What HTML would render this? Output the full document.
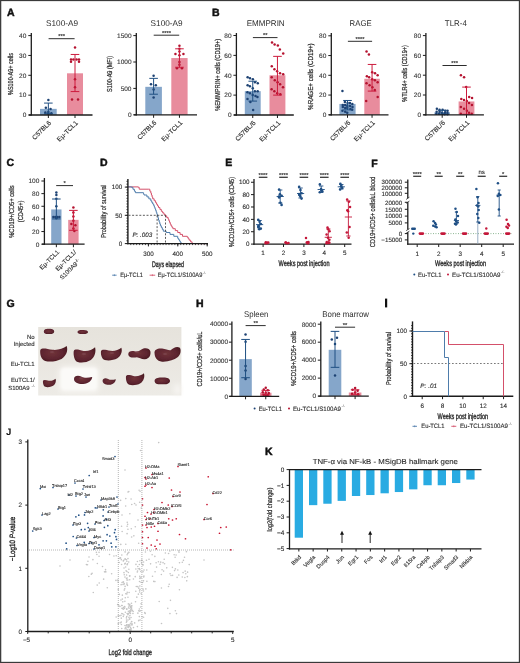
<!DOCTYPE html>
<html><head><meta charset="utf-8"><style>
html,body{margin:0;padding:0;background:#fff;}
svg{display:block;will-change:transform;}
text{font-family:"Liberation Sans", sans-serif;text-rendering:geometricPrecision;}
.s{stroke:#2a2a2a;stroke-width:0.22px;}
.p{stroke:#111;stroke-width:0.45px;}
.t{stroke:#333;stroke-width:0.12px;}
.b{stroke:#222;stroke-width:0.32px;}
</style></head><body>
<svg width="520" height="663" viewBox="0 0 520 663">
<rect width="520" height="663" fill="#fff"/>
<text x="7" y="15.9" font-size="10.5" text-anchor="start" font-weight="bold" fill="#111" class="p">A</text>
<rect x="40" y="108.85" width="16.7" height="6.15" fill="#85a6ca"/>
<rect x="67" y="73.31" width="16" height="41.69" fill="#e88c9d"/>
<circle cx="48.35" cy="100.11" r="1.25" fill="#1d4273"/>
<circle cx="45.85" cy="107.85" r="1.25" fill="#1d4273"/>
<circle cx="50.55" cy="109.05" r="1.25" fill="#1d4273"/>
<circle cx="48.35" cy="112.02" r="1.25" fill="#1d4273"/>
<circle cx="48.35" cy="113.81" r="1.25" fill="#1d4273"/>
<circle cx="45.35" cy="112.62" r="1.25" fill="#1d4273"/>
<circle cx="51.35" cy="113.21" r="1.25" fill="#1d4273"/>
<line x1="48.35" y1="103.09" x2="48.35" y2="113.81" stroke="#1f4f82" stroke-width="1" stroke-linecap="butt"/>
<line x1="44.05" y1="103.09" x2="52.65" y2="103.09" stroke="#1f4f82" stroke-width="1" stroke-linecap="butt"/>
<line x1="44.05" y1="113.81" x2="52.65" y2="113.81" stroke="#1f4f82" stroke-width="1" stroke-linecap="butt"/>
<circle cx="75" cy="47.51" r="1.25" fill="#b5122f"/>
<circle cx="71" cy="59.42" r="1.25" fill="#b5122f"/>
<circle cx="73.4" cy="59.42" r="1.25" fill="#b5122f"/>
<circle cx="76.6" cy="59.42" r="1.25" fill="#b5122f"/>
<circle cx="79" cy="59.42" r="1.25" fill="#b5122f"/>
<circle cx="71" cy="61.8" r="1.25" fill="#b5122f"/>
<circle cx="79" cy="61.8" r="1.25" fill="#b5122f"/>
<circle cx="75" cy="79.27" r="1.25" fill="#b5122f"/>
<circle cx="75" cy="87.21" r="1.25" fill="#b5122f"/>
<circle cx="72" cy="99.52" r="1.25" fill="#b5122f"/>
<circle cx="78" cy="99.52" r="1.25" fill="#b5122f"/>
<line x1="75" y1="54.46" x2="75" y2="91.58" stroke="#cc1b3d" stroke-width="1" stroke-linecap="butt"/>
<line x1="70.7" y1="54.46" x2="79.3" y2="54.46" stroke="#cc1b3d" stroke-width="1" stroke-linecap="butt"/>
<line x1="70.7" y1="91.58" x2="79.3" y2="91.58" stroke="#cc1b3d" stroke-width="1" stroke-linecap="butt"/>
<line x1="31.3" y1="33" x2="31.3" y2="115.6" stroke="#1c1c1c" stroke-width="1.3" stroke-linecap="butt"/>
<line x1="28.8" y1="115" x2="92.5" y2="115" stroke="#1c1c1c" stroke-width="1.3" stroke-linecap="butt"/>
<line x1="28.3" y1="115" x2="31.3" y2="115" stroke="#1c1c1c" stroke-width="1" stroke-linecap="butt"/>
<text x="26.3" y="117.3" font-size="6.5" text-anchor="end" font-weight="normal" fill="#3a3a3a" class="t">0</text>
<line x1="28.3" y1="95.15" x2="31.3" y2="95.15" stroke="#1c1c1c" stroke-width="1" stroke-linecap="butt"/>
<text x="26.3" y="97.45" font-size="6.5" text-anchor="end" font-weight="normal" fill="#3a3a3a" class="t">10</text>
<line x1="28.3" y1="75.3" x2="31.3" y2="75.3" stroke="#1c1c1c" stroke-width="1" stroke-linecap="butt"/>
<text x="26.3" y="77.6" font-size="6.5" text-anchor="end" font-weight="normal" fill="#3a3a3a" class="t">20</text>
<line x1="28.3" y1="55.45" x2="31.3" y2="55.45" stroke="#1c1c1c" stroke-width="1" stroke-linecap="butt"/>
<text x="26.3" y="57.75" font-size="6.5" text-anchor="end" font-weight="normal" fill="#3a3a3a" class="t">30</text>
<line x1="28.3" y1="35.6" x2="31.3" y2="35.6" stroke="#1c1c1c" stroke-width="1" stroke-linecap="butt"/>
<text x="26.3" y="37.9" font-size="6.5" text-anchor="end" font-weight="normal" fill="#3a3a3a" class="t">40</text>
<line x1="48.35" y1="115" x2="48.35" y2="118" stroke="#1c1c1c" stroke-width="1" stroke-linecap="butt"/>
<line x1="75" y1="115" x2="75" y2="118" stroke="#1c1c1c" stroke-width="1" stroke-linecap="butt"/>
<line x1="48.6" y1="38.7" x2="74.6" y2="38.7" stroke="#222" stroke-width="0.95" stroke-linecap="butt"/>
<text x="61.6" y="38.3" font-size="5.8" text-anchor="middle" font-weight="normal" fill="#2b2b2b" class="t">***</text>
<text x="62" y="26" font-size="8.3" text-anchor="middle" font-weight="normal" fill="#2b2b2b" textLength="32" lengthAdjust="spacingAndGlyphs">S100-A9</text>
<text x="0" y="0" font-size="7.2" text-anchor="middle" font-weight="normal" fill="#2b2b2b" transform="translate(12.5 74) rotate(-90)" textLength="42" lengthAdjust="spacingAndGlyphs" class="s">%S100-A9+ cells</text>
<text x="0" y="0" font-size="6.6" text-anchor="end" font-weight="normal" fill="#2b2b2b" transform="translate(51.65 123.3) rotate(-45)" class="t">C57BL6</text>
<text x="0" y="0" font-size="6.6" text-anchor="end" font-weight="normal" fill="#2b2b2b" transform="translate(78.3 123.3) rotate(-45)" class="t">Eμ-TCL1</text>
<rect x="145.3" y="86.82" width="16.6" height="27.98" fill="#85a6ca"/>
<rect x="171.3" y="58.04" width="16.3" height="56.76" fill="#e88c9d"/>
<circle cx="153.6" cy="75.73" r="1.25" fill="#1d4273"/>
<circle cx="151" cy="84.18" r="1.25" fill="#1d4273"/>
<circle cx="155.8" cy="85.23" r="1.25" fill="#1d4273"/>
<circle cx="153.6" cy="89.46" r="1.25" fill="#1d4273"/>
<circle cx="153.6" cy="97.38" r="1.25" fill="#1d4273"/>
<line x1="153.6" y1="78.37" x2="153.6" y2="94.21" stroke="#1f4f82" stroke-width="1" stroke-linecap="butt"/>
<line x1="149.3" y1="78.37" x2="157.9" y2="78.37" stroke="#1f4f82" stroke-width="1" stroke-linecap="butt"/>
<line x1="149.3" y1="94.21" x2="157.9" y2="94.21" stroke="#1f4f82" stroke-width="1" stroke-linecap="butt"/>
<circle cx="179.45" cy="45.63" r="1.25" fill="#b5122f"/>
<circle cx="179.45" cy="48.8" r="1.25" fill="#b5122f"/>
<circle cx="179.45" cy="51.44" r="1.25" fill="#b5122f"/>
<circle cx="175.45" cy="54.08" r="1.25" fill="#b5122f"/>
<circle cx="183.45" cy="54.08" r="1.25" fill="#b5122f"/>
<circle cx="179.45" cy="55.14" r="1.25" fill="#b5122f"/>
<circle cx="179.45" cy="62" r="1.25" fill="#b5122f"/>
<circle cx="179.45" cy="64.64" r="1.25" fill="#b5122f"/>
<circle cx="176.95" cy="68.34" r="1.25" fill="#b5122f"/>
<circle cx="181.95" cy="68.34" r="1.25" fill="#b5122f"/>
<line x1="179.45" y1="48.8" x2="179.45" y2="67.28" stroke="#cc1b3d" stroke-width="1" stroke-linecap="butt"/>
<line x1="175.15" y1="48.8" x2="183.75" y2="48.8" stroke="#cc1b3d" stroke-width="1" stroke-linecap="butt"/>
<line x1="175.15" y1="67.28" x2="183.75" y2="67.28" stroke="#cc1b3d" stroke-width="1" stroke-linecap="butt"/>
<line x1="136.3" y1="33" x2="136.3" y2="115.4" stroke="#1c1c1c" stroke-width="1.3" stroke-linecap="butt"/>
<line x1="133.8" y1="114.8" x2="197" y2="114.8" stroke="#1c1c1c" stroke-width="1.3" stroke-linecap="butt"/>
<line x1="133.3" y1="114.8" x2="136.3" y2="114.8" stroke="#1c1c1c" stroke-width="1" stroke-linecap="butt"/>
<text x="131.5" y="117.1" font-size="6.5" text-anchor="end" font-weight="normal" fill="#3a3a3a" class="t">0</text>
<line x1="133.3" y1="88.4" x2="136.3" y2="88.4" stroke="#1c1c1c" stroke-width="1" stroke-linecap="butt"/>
<text x="131.5" y="90.7" font-size="6.5" text-anchor="end" font-weight="normal" fill="#3a3a3a" class="t">500</text>
<line x1="133.3" y1="62" x2="136.3" y2="62" stroke="#1c1c1c" stroke-width="1" stroke-linecap="butt"/>
<text x="131.5" y="64.3" font-size="6.5" text-anchor="end" font-weight="normal" fill="#3a3a3a" class="t">1000</text>
<line x1="133.3" y1="35.6" x2="136.3" y2="35.6" stroke="#1c1c1c" stroke-width="1" stroke-linecap="butt"/>
<text x="131.5" y="37.9" font-size="6.5" text-anchor="end" font-weight="normal" fill="#3a3a3a" class="t">1500</text>
<line x1="153.6" y1="114.8" x2="153.6" y2="117.8" stroke="#1c1c1c" stroke-width="1" stroke-linecap="butt"/>
<line x1="179.45" y1="114.8" x2="179.45" y2="117.8" stroke="#1c1c1c" stroke-width="1" stroke-linecap="butt"/>
<line x1="153.7" y1="35.2" x2="179.2" y2="35.2" stroke="#222" stroke-width="0.95" stroke-linecap="butt"/>
<text x="166.45" y="34.8" font-size="5.8" text-anchor="middle" font-weight="normal" fill="#2b2b2b" class="t">****</text>
<text x="166.6" y="26" font-size="8.3" text-anchor="middle" font-weight="normal" fill="#2b2b2b" textLength="32" lengthAdjust="spacingAndGlyphs">S100-A9</text>
<text x="0" y="0" font-size="7.2" text-anchor="middle" font-weight="normal" fill="#2b2b2b" transform="translate(111.9 74) rotate(-90)" textLength="36" lengthAdjust="spacingAndGlyphs" class="s">S100-A9 (MFI)</text>
<text x="0" y="0" font-size="6.6" text-anchor="end" font-weight="normal" fill="#2b2b2b" transform="translate(156.9 123.1) rotate(-45)" class="t">C57BL6</text>
<text x="0" y="0" font-size="6.6" text-anchor="end" font-weight="normal" fill="#2b2b2b" transform="translate(182.75 123.1) rotate(-45)" class="t">Eμ-TCL1</text>
<text x="212" y="15.9" font-size="10.5" text-anchor="start" font-weight="bold" fill="#111" class="p">B</text>
<rect x="244.8" y="91.15" width="15.9" height="23.85" fill="#85a6ca"/>
<rect x="269.5" y="75.25" width="15.9" height="39.75" fill="#e88c9d"/>
<circle cx="247.61" cy="77.24" r="1.25" fill="#1d4273"/>
<circle cx="249.97" cy="78.23" r="1.25" fill="#1d4273"/>
<circle cx="252.87" cy="79.22" r="1.25" fill="#1d4273"/>
<circle cx="254.91" cy="82.21" r="1.25" fill="#1d4273"/>
<circle cx="257.78" cy="83.2" r="1.25" fill="#1d4273"/>
<circle cx="247.64" cy="85.19" r="1.25" fill="#1d4273"/>
<circle cx="249.9" cy="86.18" r="1.25" fill="#1d4273"/>
<circle cx="252.76" cy="88.17" r="1.25" fill="#1d4273"/>
<circle cx="254.88" cy="91.15" r="1.25" fill="#1d4273"/>
<circle cx="257.7" cy="91.15" r="1.25" fill="#1d4273"/>
<circle cx="247.41" cy="92.14" r="1.25" fill="#1d4273"/>
<circle cx="249.92" cy="93.14" r="1.25" fill="#1d4273"/>
<circle cx="252.69" cy="95.12" r="1.25" fill="#1d4273"/>
<circle cx="255.51" cy="96.12" r="1.25" fill="#1d4273"/>
<circle cx="257.45" cy="97.11" r="1.25" fill="#1d4273"/>
<circle cx="247.53" cy="99.1" r="1.25" fill="#1d4273"/>
<circle cx="250.35" cy="102.08" r="1.25" fill="#1d4273"/>
<circle cx="253.11" cy="110.03" r="1.25" fill="#1d4273"/>
<line x1="252.75" y1="81.21" x2="252.75" y2="101.09" stroke="#1f4f82" stroke-width="1" stroke-linecap="butt"/>
<line x1="248.45" y1="81.21" x2="257.05" y2="81.21" stroke="#1f4f82" stroke-width="1" stroke-linecap="butt"/>
<line x1="248.45" y1="101.09" x2="257.05" y2="101.09" stroke="#1f4f82" stroke-width="1" stroke-linecap="butt"/>
<circle cx="272.01" cy="42.46" r="1.25" fill="#b5122f"/>
<circle cx="274.62" cy="44.44" r="1.25" fill="#b5122f"/>
<circle cx="277.83" cy="45.44" r="1.25" fill="#b5122f"/>
<circle cx="279.84" cy="49.41" r="1.25" fill="#b5122f"/>
<circle cx="283.24" cy="53.39" r="1.25" fill="#b5122f"/>
<circle cx="271.78" cy="66.31" r="1.25" fill="#b5122f"/>
<circle cx="274.42" cy="69.29" r="1.25" fill="#b5122f"/>
<circle cx="277.14" cy="71.28" r="1.25" fill="#b5122f"/>
<circle cx="280.05" cy="73.26" r="1.25" fill="#b5122f"/>
<circle cx="283.2" cy="74.26" r="1.25" fill="#b5122f"/>
<circle cx="271.69" cy="77.24" r="1.25" fill="#b5122f"/>
<circle cx="274.77" cy="80.22" r="1.25" fill="#b5122f"/>
<circle cx="277.56" cy="82.21" r="1.25" fill="#b5122f"/>
<circle cx="280.1" cy="84.19" r="1.25" fill="#b5122f"/>
<circle cx="282.99" cy="87.17" r="1.25" fill="#b5122f"/>
<circle cx="271.6" cy="89.16" r="1.25" fill="#b5122f"/>
<circle cx="274.35" cy="91.15" r="1.25" fill="#b5122f"/>
<circle cx="277.21" cy="93.14" r="1.25" fill="#b5122f"/>
<circle cx="280.34" cy="94.13" r="1.25" fill="#b5122f"/>
<line x1="277.45" y1="56.37" x2="277.45" y2="95.12" stroke="#cc1b3d" stroke-width="1" stroke-linecap="butt"/>
<line x1="273.15" y1="56.37" x2="281.75" y2="56.37" stroke="#cc1b3d" stroke-width="1" stroke-linecap="butt"/>
<line x1="273.15" y1="95.12" x2="281.75" y2="95.12" stroke="#cc1b3d" stroke-width="1" stroke-linecap="butt"/>
<line x1="236.4" y1="33" x2="236.4" y2="115.6" stroke="#1c1c1c" stroke-width="1.3" stroke-linecap="butt"/>
<line x1="233.9" y1="115" x2="293.8" y2="115" stroke="#1c1c1c" stroke-width="1.3" stroke-linecap="butt"/>
<line x1="233.4" y1="115" x2="236.4" y2="115" stroke="#1c1c1c" stroke-width="1" stroke-linecap="butt"/>
<text x="231.5" y="117.3" font-size="6.5" text-anchor="end" font-weight="normal" fill="#3a3a3a" class="t">0</text>
<line x1="233.4" y1="95.12" x2="236.4" y2="95.12" stroke="#1c1c1c" stroke-width="1" stroke-linecap="butt"/>
<text x="231.5" y="97.42" font-size="6.5" text-anchor="end" font-weight="normal" fill="#3a3a3a" class="t">20</text>
<line x1="233.4" y1="75.25" x2="236.4" y2="75.25" stroke="#1c1c1c" stroke-width="1" stroke-linecap="butt"/>
<text x="231.5" y="77.55" font-size="6.5" text-anchor="end" font-weight="normal" fill="#3a3a3a" class="t">40</text>
<line x1="233.4" y1="55.38" x2="236.4" y2="55.38" stroke="#1c1c1c" stroke-width="1" stroke-linecap="butt"/>
<text x="231.5" y="57.67" font-size="6.5" text-anchor="end" font-weight="normal" fill="#3a3a3a" class="t">60</text>
<line x1="233.4" y1="35.5" x2="236.4" y2="35.5" stroke="#1c1c1c" stroke-width="1" stroke-linecap="butt"/>
<text x="231.5" y="37.8" font-size="6.5" text-anchor="end" font-weight="normal" fill="#3a3a3a" class="t">80</text>
<line x1="252.75" y1="115" x2="252.75" y2="118" stroke="#1c1c1c" stroke-width="1" stroke-linecap="butt"/>
<line x1="277.45" y1="115" x2="277.45" y2="118" stroke="#1c1c1c" stroke-width="1" stroke-linecap="butt"/>
<line x1="252.9" y1="37.6" x2="277.5" y2="37.6" stroke="#222" stroke-width="0.95" stroke-linecap="butt"/>
<text x="265.2" y="37.2" font-size="5.8" text-anchor="middle" font-weight="normal" fill="#2b2b2b" class="t">**</text>
<text x="265.7" y="26" font-size="8.3" text-anchor="middle" font-weight="normal" fill="#2b2b2b" textLength="38" lengthAdjust="spacingAndGlyphs">EMMPRIN</text>
<text x="0" y="0" font-size="7.2" text-anchor="middle" font-weight="normal" fill="#2b2b2b" transform="translate(219.9 74.8) rotate(-90)" textLength="72" lengthAdjust="spacingAndGlyphs" class="s">%EMMPRIN+ cells (CD19+)</text>
<text x="0" y="0" font-size="6.6" text-anchor="end" font-weight="normal" fill="#2b2b2b" transform="translate(256.05 123.3) rotate(-45)" class="t">C57BL/6</text>
<text x="0" y="0" font-size="6.6" text-anchor="end" font-weight="normal" fill="#2b2b2b" transform="translate(280.75 123.3) rotate(-45)" class="t">Eμ-TCL1</text>
<rect x="339.4" y="103.94" width="16.2" height="10.86" fill="#85a6ca"/>
<rect x="364.3" y="78.76" width="15.5" height="36.04" fill="#e88c9d"/>
<circle cx="342.44" cy="91.1" r="1.25" fill="#1d4273"/>
<circle cx="344.85" cy="101.96" r="1.25" fill="#1d4273"/>
<circle cx="347.57" cy="102.95" r="1.25" fill="#1d4273"/>
<circle cx="349.96" cy="102.95" r="1.25" fill="#1d4273"/>
<circle cx="352.34" cy="103.94" r="1.25" fill="#1d4273"/>
<circle cx="342.74" cy="104.92" r="1.25" fill="#1d4273"/>
<circle cx="345.16" cy="104.92" r="1.25" fill="#1d4273"/>
<circle cx="347.3" cy="105.91" r="1.25" fill="#1d4273"/>
<circle cx="350.06" cy="105.91" r="1.25" fill="#1d4273"/>
<circle cx="352.52" cy="106.9" r="1.25" fill="#1d4273"/>
<circle cx="342.8" cy="106.9" r="1.25" fill="#1d4273"/>
<circle cx="345.18" cy="107.89" r="1.25" fill="#1d4273"/>
<circle cx="347.33" cy="107.89" r="1.25" fill="#1d4273"/>
<circle cx="350.38" cy="108.88" r="1.25" fill="#1d4273"/>
<circle cx="352.19" cy="109.86" r="1.25" fill="#1d4273"/>
<circle cx="342.43" cy="110.85" r="1.25" fill="#1d4273"/>
<circle cx="345.21" cy="111.84" r="1.25" fill="#1d4273"/>
<circle cx="347.22" cy="112.83" r="1.25" fill="#1d4273"/>
<line x1="347.5" y1="100.48" x2="347.5" y2="109.86" stroke="#1f4f82" stroke-width="1" stroke-linecap="butt"/>
<line x1="343.2" y1="100.48" x2="351.8" y2="100.48" stroke="#1f4f82" stroke-width="1" stroke-linecap="butt"/>
<line x1="343.2" y1="109.86" x2="351.8" y2="109.86" stroke="#1f4f82" stroke-width="1" stroke-linecap="butt"/>
<circle cx="366.54" cy="51.6" r="1.25" fill="#b5122f"/>
<circle cx="368.93" cy="54.56" r="1.25" fill="#b5122f"/>
<circle cx="372.18" cy="72.34" r="1.25" fill="#b5122f"/>
<circle cx="375.01" cy="73.32" r="1.25" fill="#b5122f"/>
<circle cx="377.61" cy="75.3" r="1.25" fill="#b5122f"/>
<circle cx="366.85" cy="76.29" r="1.25" fill="#b5122f"/>
<circle cx="369.15" cy="77.28" r="1.25" fill="#b5122f"/>
<circle cx="372.21" cy="79.25" r="1.25" fill="#b5122f"/>
<circle cx="374.88" cy="80.24" r="1.25" fill="#b5122f"/>
<circle cx="377.61" cy="82.21" r="1.25" fill="#b5122f"/>
<circle cx="366.51" cy="83.2" r="1.25" fill="#b5122f"/>
<circle cx="369.57" cy="85.17" r="1.25" fill="#b5122f"/>
<circle cx="372.41" cy="87.15" r="1.25" fill="#b5122f"/>
<circle cx="374.78" cy="90.11" r="1.25" fill="#b5122f"/>
<circle cx="377.68" cy="97.02" r="1.25" fill="#b5122f"/>
<circle cx="366.2" cy="100.97" r="1.25" fill="#b5122f"/>
<line x1="372.05" y1="64.44" x2="372.05" y2="91.1" stroke="#cc1b3d" stroke-width="1" stroke-linecap="butt"/>
<line x1="367.75" y1="64.44" x2="376.35" y2="64.44" stroke="#cc1b3d" stroke-width="1" stroke-linecap="butt"/>
<line x1="367.75" y1="91.1" x2="376.35" y2="91.1" stroke="#cc1b3d" stroke-width="1" stroke-linecap="butt"/>
<line x1="331.3" y1="33" x2="331.3" y2="115.4" stroke="#1c1c1c" stroke-width="1.3" stroke-linecap="butt"/>
<line x1="328.8" y1="114.8" x2="388.5" y2="114.8" stroke="#1c1c1c" stroke-width="1.3" stroke-linecap="butt"/>
<line x1="328.3" y1="114.8" x2="331.3" y2="114.8" stroke="#1c1c1c" stroke-width="1" stroke-linecap="butt"/>
<text x="326.3" y="117.1" font-size="6.5" text-anchor="end" font-weight="normal" fill="#3a3a3a" class="t">0</text>
<line x1="328.3" y1="95.05" x2="331.3" y2="95.05" stroke="#1c1c1c" stroke-width="1" stroke-linecap="butt"/>
<text x="326.3" y="97.35" font-size="6.5" text-anchor="end" font-weight="normal" fill="#3a3a3a" class="t">20</text>
<line x1="328.3" y1="75.3" x2="331.3" y2="75.3" stroke="#1c1c1c" stroke-width="1" stroke-linecap="butt"/>
<text x="326.3" y="77.6" font-size="6.5" text-anchor="end" font-weight="normal" fill="#3a3a3a" class="t">40</text>
<line x1="328.3" y1="55.55" x2="331.3" y2="55.55" stroke="#1c1c1c" stroke-width="1" stroke-linecap="butt"/>
<text x="326.3" y="57.85" font-size="6.5" text-anchor="end" font-weight="normal" fill="#3a3a3a" class="t">60</text>
<line x1="328.3" y1="35.8" x2="331.3" y2="35.8" stroke="#1c1c1c" stroke-width="1" stroke-linecap="butt"/>
<text x="326.3" y="38.1" font-size="6.5" text-anchor="end" font-weight="normal" fill="#3a3a3a" class="t">80</text>
<line x1="347.5" y1="114.8" x2="347.5" y2="117.8" stroke="#1c1c1c" stroke-width="1" stroke-linecap="butt"/>
<line x1="372.05" y1="114.8" x2="372.05" y2="117.8" stroke="#1c1c1c" stroke-width="1" stroke-linecap="butt"/>
<line x1="347.9" y1="41.3" x2="372.1" y2="41.3" stroke="#222" stroke-width="0.95" stroke-linecap="butt"/>
<text x="360" y="40.9" font-size="5.8" text-anchor="middle" font-weight="normal" fill="#2b2b2b" class="t">****</text>
<text x="360.6" y="26" font-size="8.3" text-anchor="middle" font-weight="normal" fill="#2b2b2b" textLength="22" lengthAdjust="spacingAndGlyphs">RAGE</text>
<text x="0" y="0" font-size="7.2" text-anchor="middle" font-weight="normal" fill="#2b2b2b" transform="translate(313 76.6) rotate(-90)" textLength="66.6" lengthAdjust="spacingAndGlyphs" class="s">%RAGE+ cells (CD19+)</text>
<text x="0" y="0" font-size="6.6" text-anchor="end" font-weight="normal" fill="#2b2b2b" transform="translate(350.8 123.1) rotate(-45)" class="t">C57BL/6</text>
<text x="0" y="0" font-size="6.6" text-anchor="end" font-weight="normal" fill="#2b2b2b" transform="translate(375.35 123.1) rotate(-45)" class="t">Eμ-TCL1</text>
<rect x="434.4" y="112.33" width="15.6" height="2.47" fill="#85a6ca"/>
<rect x="458.6" y="101.44" width="15.8" height="13.36" fill="#e88c9d"/>
<circle cx="436.86" cy="108.86" r="1.25" fill="#1d4273"/>
<circle cx="439.57" cy="109.85" r="1.25" fill="#1d4273"/>
<circle cx="442.59" cy="109.85" r="1.25" fill="#1d4273"/>
<circle cx="445.21" cy="110.84" r="1.25" fill="#1d4273"/>
<circle cx="447.53" cy="110.84" r="1.25" fill="#1d4273"/>
<circle cx="436.61" cy="111.83" r="1.25" fill="#1d4273"/>
<circle cx="439.58" cy="111.83" r="1.25" fill="#1d4273"/>
<circle cx="441.82" cy="112.82" r="1.25" fill="#1d4273"/>
<circle cx="444.92" cy="112.82" r="1.25" fill="#1d4273"/>
<circle cx="447.43" cy="112.82" r="1.25" fill="#1d4273"/>
<circle cx="436.39" cy="113.81" r="1.25" fill="#1d4273"/>
<circle cx="439.1" cy="113.81" r="1.25" fill="#1d4273"/>
<circle cx="442.41" cy="113.81" r="1.25" fill="#1d4273"/>
<circle cx="444.65" cy="114.3" r="1.25" fill="#1d4273"/>
<circle cx="447.5" cy="114.3" r="1.25" fill="#1d4273"/>
<line x1="442.2" y1="110.34" x2="442.2" y2="114.3" stroke="#1f4f82" stroke-width="1" stroke-linecap="butt"/>
<line x1="437.9" y1="110.34" x2="446.5" y2="110.34" stroke="#1f4f82" stroke-width="1" stroke-linecap="butt"/>
<line x1="437.9" y1="114.3" x2="446.5" y2="114.3" stroke="#1f4f82" stroke-width="1" stroke-linecap="butt"/>
<circle cx="460.91" cy="75.2" r="1.25" fill="#b5122f"/>
<circle cx="464.05" cy="77.18" r="1.25" fill="#b5122f"/>
<circle cx="466.16" cy="87.08" r="1.25" fill="#b5122f"/>
<circle cx="469.21" cy="96.98" r="1.25" fill="#b5122f"/>
<circle cx="472.04" cy="97.97" r="1.25" fill="#b5122f"/>
<circle cx="461.31" cy="98.96" r="1.25" fill="#b5122f"/>
<circle cx="464.01" cy="99.95" r="1.25" fill="#b5122f"/>
<circle cx="466.79" cy="100.94" r="1.25" fill="#b5122f"/>
<circle cx="469.07" cy="102.92" r="1.25" fill="#b5122f"/>
<circle cx="471.93" cy="104.9" r="1.25" fill="#b5122f"/>
<circle cx="460.89" cy="106.88" r="1.25" fill="#b5122f"/>
<circle cx="464.06" cy="108.86" r="1.25" fill="#b5122f"/>
<circle cx="466.87" cy="110.84" r="1.25" fill="#b5122f"/>
<circle cx="468.97" cy="112.82" r="1.25" fill="#b5122f"/>
<circle cx="471.74" cy="113.81" r="1.25" fill="#b5122f"/>
<circle cx="460.79" cy="113.81" r="1.25" fill="#b5122f"/>
<line x1="466.5" y1="87.08" x2="466.5" y2="114.3" stroke="#cc1b3d" stroke-width="1" stroke-linecap="butt"/>
<line x1="462.2" y1="87.08" x2="470.8" y2="87.08" stroke="#cc1b3d" stroke-width="1" stroke-linecap="butt"/>
<line x1="462.2" y1="114.3" x2="470.8" y2="114.3" stroke="#cc1b3d" stroke-width="1" stroke-linecap="butt"/>
<line x1="425.9" y1="33" x2="425.9" y2="115.4" stroke="#1c1c1c" stroke-width="1.3" stroke-linecap="butt"/>
<line x1="423.4" y1="114.8" x2="483.9" y2="114.8" stroke="#1c1c1c" stroke-width="1.3" stroke-linecap="butt"/>
<line x1="422.9" y1="114.8" x2="425.9" y2="114.8" stroke="#1c1c1c" stroke-width="1" stroke-linecap="butt"/>
<text x="421" y="117.1" font-size="6.5" text-anchor="end" font-weight="normal" fill="#3a3a3a" class="t">0</text>
<line x1="422.9" y1="95" x2="425.9" y2="95" stroke="#1c1c1c" stroke-width="1" stroke-linecap="butt"/>
<text x="421" y="97.3" font-size="6.5" text-anchor="end" font-weight="normal" fill="#3a3a3a" class="t">20</text>
<line x1="422.9" y1="75.2" x2="425.9" y2="75.2" stroke="#1c1c1c" stroke-width="1" stroke-linecap="butt"/>
<text x="421" y="77.5" font-size="6.5" text-anchor="end" font-weight="normal" fill="#3a3a3a" class="t">40</text>
<line x1="422.9" y1="55.4" x2="425.9" y2="55.4" stroke="#1c1c1c" stroke-width="1" stroke-linecap="butt"/>
<text x="421" y="57.7" font-size="6.5" text-anchor="end" font-weight="normal" fill="#3a3a3a" class="t">60</text>
<line x1="422.9" y1="35.6" x2="425.9" y2="35.6" stroke="#1c1c1c" stroke-width="1" stroke-linecap="butt"/>
<text x="421" y="37.9" font-size="6.5" text-anchor="end" font-weight="normal" fill="#3a3a3a" class="t">80</text>
<line x1="442.2" y1="114.8" x2="442.2" y2="117.8" stroke="#1c1c1c" stroke-width="1" stroke-linecap="butt"/>
<line x1="466.5" y1="114.8" x2="466.5" y2="117.8" stroke="#1c1c1c" stroke-width="1" stroke-linecap="butt"/>
<line x1="442.5" y1="65.5" x2="466.7" y2="65.5" stroke="#222" stroke-width="0.95" stroke-linecap="butt"/>
<text x="454.6" y="65.1" font-size="5.8" text-anchor="middle" font-weight="normal" fill="#2b2b2b" class="t">***</text>
<text x="455.8" y="26" font-size="8.3" text-anchor="middle" font-weight="normal" fill="#2b2b2b" textLength="22" lengthAdjust="spacingAndGlyphs">TLR-4</text>
<text x="0" y="0" font-size="7.2" text-anchor="middle" font-weight="normal" fill="#2b2b2b" transform="translate(406.9 73.5) rotate(-90)" textLength="56.5" lengthAdjust="spacingAndGlyphs" class="s">%TLR4+ cells (CD19+)</text>
<text x="0" y="0" font-size="6.6" text-anchor="end" font-weight="normal" fill="#2b2b2b" transform="translate(445.5 123.1) rotate(-45)" class="t">C57BL/6</text>
<text x="0" y="0" font-size="6.6" text-anchor="end" font-weight="normal" fill="#2b2b2b" transform="translate(469.8 123.1) rotate(-45)" class="t">Eμ-TCL1</text>
<text x="6.5" y="166.3" font-size="10.5" text-anchor="start" font-weight="bold" fill="#111" class="p">C</text>
<rect x="51.2" y="209.44" width="10.3" height="34.76" fill="#85a6ca"/>
<rect x="68.2" y="219.87" width="10.4" height="24.33" fill="#e88c9d"/>
<circle cx="56.35" cy="192.38" r="1.25" fill="#1d4273"/>
<circle cx="56.35" cy="194.9" r="1.25" fill="#1d4273"/>
<circle cx="56.35" cy="198.7" r="1.25" fill="#1d4273"/>
<circle cx="56.35" cy="206.28" r="1.25" fill="#1d4273"/>
<circle cx="53.35" cy="217.02" r="1.25" fill="#1d4273"/>
<circle cx="55.35" cy="217.02" r="1.25" fill="#1d4273"/>
<circle cx="57.35" cy="217.02" r="1.25" fill="#1d4273"/>
<circle cx="59.35" cy="217.02" r="1.25" fill="#1d4273"/>
<circle cx="56.35" cy="218.29" r="1.25" fill="#1d4273"/>
<line x1="56.35" y1="199.01" x2="56.35" y2="218.92" stroke="#1f4f82" stroke-width="1" stroke-linecap="butt"/>
<line x1="52.05" y1="199.01" x2="60.65" y2="199.01" stroke="#1f4f82" stroke-width="1" stroke-linecap="butt"/>
<line x1="52.05" y1="218.92" x2="60.65" y2="218.92" stroke="#1f4f82" stroke-width="1" stroke-linecap="butt"/>
<circle cx="73.4" cy="207.54" r="1.25" fill="#b5122f"/>
<circle cx="73.4" cy="212.6" r="1.25" fill="#b5122f"/>
<circle cx="73.4" cy="216.39" r="1.25" fill="#b5122f"/>
<circle cx="73.4" cy="220.82" r="1.25" fill="#b5122f"/>
<circle cx="71.4" cy="223.98" r="1.25" fill="#b5122f"/>
<circle cx="75.4" cy="225.24" r="1.25" fill="#b5122f"/>
<circle cx="73.4" cy="228.4" r="1.25" fill="#b5122f"/>
<circle cx="74.4" cy="230.93" r="1.25" fill="#b5122f"/>
<line x1="73.4" y1="210.39" x2="73.4" y2="230.3" stroke="#cc1b3d" stroke-width="1" stroke-linecap="butt"/>
<line x1="69.1" y1="210.39" x2="77.7" y2="210.39" stroke="#cc1b3d" stroke-width="1" stroke-linecap="butt"/>
<line x1="69.1" y1="230.3" x2="77.7" y2="230.3" stroke="#cc1b3d" stroke-width="1" stroke-linecap="butt"/>
<line x1="44.4" y1="178" x2="44.4" y2="244.8" stroke="#1c1c1c" stroke-width="1.3" stroke-linecap="butt"/>
<line x1="41.9" y1="244.2" x2="84.6" y2="244.2" stroke="#1c1c1c" stroke-width="1.3" stroke-linecap="butt"/>
<line x1="41.4" y1="244.2" x2="44.4" y2="244.2" stroke="#1c1c1c" stroke-width="1" stroke-linecap="butt"/>
<text x="39.3" y="246.5" font-size="6.5" text-anchor="end" font-weight="normal" fill="#3a3a3a" class="t">0</text>
<line x1="41.4" y1="231.56" x2="44.4" y2="231.56" stroke="#1c1c1c" stroke-width="1" stroke-linecap="butt"/>
<text x="39.3" y="233.86" font-size="6.5" text-anchor="end" font-weight="normal" fill="#3a3a3a" class="t">20</text>
<line x1="41.4" y1="218.92" x2="44.4" y2="218.92" stroke="#1c1c1c" stroke-width="1" stroke-linecap="butt"/>
<text x="39.3" y="221.22" font-size="6.5" text-anchor="end" font-weight="normal" fill="#3a3a3a" class="t">40</text>
<line x1="41.4" y1="206.28" x2="44.4" y2="206.28" stroke="#1c1c1c" stroke-width="1" stroke-linecap="butt"/>
<text x="39.3" y="208.58" font-size="6.5" text-anchor="end" font-weight="normal" fill="#3a3a3a" class="t">60</text>
<line x1="41.4" y1="193.64" x2="44.4" y2="193.64" stroke="#1c1c1c" stroke-width="1" stroke-linecap="butt"/>
<text x="39.3" y="195.94" font-size="6.5" text-anchor="end" font-weight="normal" fill="#3a3a3a" class="t">80</text>
<line x1="41.4" y1="181" x2="44.4" y2="181" stroke="#1c1c1c" stroke-width="1" stroke-linecap="butt"/>
<text x="39.3" y="183.3" font-size="6.5" text-anchor="end" font-weight="normal" fill="#3a3a3a" class="t">100</text>
<line x1="56.35" y1="244.2" x2="56.35" y2="247.2" stroke="#1c1c1c" stroke-width="1" stroke-linecap="butt"/>
<line x1="73.4" y1="244.2" x2="73.4" y2="247.2" stroke="#1c1c1c" stroke-width="1" stroke-linecap="butt"/>
<line x1="56.2" y1="185.6" x2="73" y2="185.6" stroke="#222" stroke-width="0.95" stroke-linecap="butt"/>
<text x="64.6" y="185.2" font-size="5.8" text-anchor="middle" font-weight="normal" fill="#2b2b2b" class="t">*</text>
<text x="0" y="0" font-size="7.2" text-anchor="middle" font-weight="normal" fill="#2b2b2b" transform="translate(14 211.6) rotate(-90)" textLength="52.4" lengthAdjust="spacingAndGlyphs" class="s">%CD19+/CD5+ cells</text>
<text x="0" y="0" font-size="7.2" text-anchor="middle" font-weight="normal" fill="#2b2b2b" transform="translate(22.8 211.4) rotate(-90)" textLength="21.6" lengthAdjust="spacingAndGlyphs" class="s">(CD45+)</text>
<text x="0" y="0" font-size="6.2" text-anchor="end" font-weight="normal" fill="#2b2b2b" transform="translate(59.65 252.5) rotate(-45)" class="t">Eμ-TCL1</text>
<text x="0" y="0" font-size="6.2" text-anchor="end" font-weight="normal" fill="#2b2b2b" transform="translate(76.7 252.5) rotate(-45)" class="t">Eμ-TCL1/</text>
<text x="0" y="0" font-size="6.2" text-anchor="end" font-weight="normal" fill="#2b2b2b" transform="translate(80.5 261.8) rotate(-45)" class="t">S100A9<tspan font-size="4" dy="-2">-/-</tspan></text>
<text x="100" y="166" font-size="10.5" text-anchor="start" font-weight="bold" fill="#111" class="p">D</text>
<path d="M128.1 186.9 H138.3 V187.3 H139.2 V189.2 H148.8 V189.2 H149.8 V191.15 H150.8 V193.1 H151.43 V195 H152.07 V196.9 H152.7 V198.8 H154.15 V200.75 H155.6 V202.7 H156.57 V204.3 H157.53 V205.9 H158.5 V207.5 H159.9 V209.4 H161.3 V211.3 H162.6 V212.8 H163.9 V214.3 H165.2 V215.8 H166.65 V217.4 H168.1 V219 H168.82 V220.7 H169.55 V222.4 H170.28 V224.1 H171 V225.8 H171.95 V227.25 H172.9 V228.7 H175.3 V230.6 H177.7 V232.5 H180.1 V234.4 H182.5 V236.3 H187.3 V237.3 H188.25 V238.75 H189.2 V240.2 H190.65 V241.9 H192.1 V243.6 H207.5 V243.6" fill="none" stroke="#d4506a" stroke-width="1"/>
<path d="M128.1 186.9 H131.5 V187.3 H132.95 V189.25 H134.4 V191.2 H135.4 V192.7 H143.1 V192.7 H143.55 V193.85 H144 V195 H146.9 V196.9 H148.85 V198.85 H150.8 V200.8 H151.77 V202.4 H152.73 V204 H153.7 V205.6 H154.33 V207.2 H154.97 V208.8 H155.6 V210.4 H156.23 V212.33 H156.87 V214.27 H157.5 V216.2 H158 V218.1 H158.5 V220 H159.13 V221.93 H159.77 V223.87 H160.4 V225.8 H161.37 V227.6 H162.33 V229.4 H163.3 V231.2 H166.2 V232.5 H170 V234.4 H173.8 V236.3 H177.7 V238.3 H178.65 V239.75 H179.6 V241.2 H180.4 V242.4 H181.2 V243.6" fill="none" stroke="#4e7cab" stroke-width="1"/>
<line x1="128.5" y1="215.3" x2="165.5" y2="215.3" stroke="#333" stroke-width="0.8" stroke-linecap="butt" stroke-dasharray="2,1.6"/>
<line x1="157.1" y1="215.3" x2="157.1" y2="243.5" stroke="#333" stroke-width="0.8" stroke-linecap="butt" stroke-dasharray="2,1.6"/>
<line x1="165.5" y1="215.3" x2="165.5" y2="243.5" stroke="#333" stroke-width="0.8" stroke-linecap="butt" stroke-dasharray="2,1.6"/>
<line x1="127.9" y1="179" x2="127.9" y2="244.2" stroke="#1c1c1c" stroke-width="1.4" stroke-linecap="butt"/>
<line x1="127.3" y1="243.6" x2="208" y2="243.6" stroke="#1c1c1c" stroke-width="1.4" stroke-linecap="butt"/>
<line x1="126.4" y1="243.6" x2="127.9" y2="243.6" stroke="#1c1c1c" stroke-width="0.8" stroke-linecap="butt"/>
<line x1="126.4" y1="240.77" x2="127.9" y2="240.77" stroke="#1c1c1c" stroke-width="0.8" stroke-linecap="butt"/>
<line x1="126.4" y1="237.94" x2="127.9" y2="237.94" stroke="#1c1c1c" stroke-width="0.8" stroke-linecap="butt"/>
<line x1="126.4" y1="235.11" x2="127.9" y2="235.11" stroke="#1c1c1c" stroke-width="0.8" stroke-linecap="butt"/>
<line x1="126.4" y1="232.28" x2="127.9" y2="232.28" stroke="#1c1c1c" stroke-width="0.8" stroke-linecap="butt"/>
<line x1="126.4" y1="229.45" x2="127.9" y2="229.45" stroke="#1c1c1c" stroke-width="0.8" stroke-linecap="butt"/>
<line x1="126.4" y1="226.62" x2="127.9" y2="226.62" stroke="#1c1c1c" stroke-width="0.8" stroke-linecap="butt"/>
<line x1="126.4" y1="223.79" x2="127.9" y2="223.79" stroke="#1c1c1c" stroke-width="0.8" stroke-linecap="butt"/>
<line x1="126.4" y1="220.96" x2="127.9" y2="220.96" stroke="#1c1c1c" stroke-width="0.8" stroke-linecap="butt"/>
<line x1="126.4" y1="218.13" x2="127.9" y2="218.13" stroke="#1c1c1c" stroke-width="0.8" stroke-linecap="butt"/>
<line x1="126.4" y1="215.3" x2="127.9" y2="215.3" stroke="#1c1c1c" stroke-width="0.8" stroke-linecap="butt"/>
<line x1="126.4" y1="212.47" x2="127.9" y2="212.47" stroke="#1c1c1c" stroke-width="0.8" stroke-linecap="butt"/>
<line x1="126.4" y1="209.64" x2="127.9" y2="209.64" stroke="#1c1c1c" stroke-width="0.8" stroke-linecap="butt"/>
<line x1="126.4" y1="206.81" x2="127.9" y2="206.81" stroke="#1c1c1c" stroke-width="0.8" stroke-linecap="butt"/>
<line x1="126.4" y1="203.98" x2="127.9" y2="203.98" stroke="#1c1c1c" stroke-width="0.8" stroke-linecap="butt"/>
<line x1="126.4" y1="201.15" x2="127.9" y2="201.15" stroke="#1c1c1c" stroke-width="0.8" stroke-linecap="butt"/>
<line x1="126.4" y1="198.32" x2="127.9" y2="198.32" stroke="#1c1c1c" stroke-width="0.8" stroke-linecap="butt"/>
<line x1="126.4" y1="195.49" x2="127.9" y2="195.49" stroke="#1c1c1c" stroke-width="0.8" stroke-linecap="butt"/>
<line x1="126.4" y1="192.66" x2="127.9" y2="192.66" stroke="#1c1c1c" stroke-width="0.8" stroke-linecap="butt"/>
<line x1="126.4" y1="189.83" x2="127.9" y2="189.83" stroke="#1c1c1c" stroke-width="0.8" stroke-linecap="butt"/>
<line x1="126.4" y1="187" x2="127.9" y2="187" stroke="#1c1c1c" stroke-width="0.8" stroke-linecap="butt"/>
<line x1="126.4" y1="184.17" x2="127.9" y2="184.17" stroke="#1c1c1c" stroke-width="0.8" stroke-linecap="butt"/>
<line x1="126.4" y1="181.34" x2="127.9" y2="181.34" stroke="#1c1c1c" stroke-width="0.8" stroke-linecap="butt"/>
<line x1="124.8" y1="243.6" x2="127.9" y2="243.6" stroke="#1c1c1c" stroke-width="1" stroke-linecap="butt"/>
<text x="122.3" y="245.8" font-size="6.3" text-anchor="end" font-weight="normal" fill="#2b2b2b" class="t">0</text>
<line x1="124.8" y1="215.3" x2="127.9" y2="215.3" stroke="#1c1c1c" stroke-width="1" stroke-linecap="butt"/>
<text x="122.3" y="217.5" font-size="6.3" text-anchor="end" font-weight="normal" fill="#2b2b2b" class="t">50</text>
<line x1="124.8" y1="187.1" x2="127.9" y2="187.1" stroke="#1c1c1c" stroke-width="1" stroke-linecap="butt"/>
<text x="122.3" y="189.3" font-size="6.3" text-anchor="end" font-weight="normal" fill="#2b2b2b" class="t">100</text>
<line x1="130.76" y1="243.6" x2="130.76" y2="245.1" stroke="#1c1c1c" stroke-width="0.8" stroke-linecap="butt"/>
<line x1="133.7" y1="243.6" x2="133.7" y2="245.1" stroke="#1c1c1c" stroke-width="0.8" stroke-linecap="butt"/>
<line x1="136.64" y1="243.6" x2="136.64" y2="245.1" stroke="#1c1c1c" stroke-width="0.8" stroke-linecap="butt"/>
<line x1="139.58" y1="243.6" x2="139.58" y2="245.1" stroke="#1c1c1c" stroke-width="0.8" stroke-linecap="butt"/>
<line x1="142.52" y1="243.6" x2="142.52" y2="245.1" stroke="#1c1c1c" stroke-width="0.8" stroke-linecap="butt"/>
<line x1="145.46" y1="243.6" x2="145.46" y2="245.1" stroke="#1c1c1c" stroke-width="0.8" stroke-linecap="butt"/>
<line x1="148.4" y1="243.6" x2="148.4" y2="245.1" stroke="#1c1c1c" stroke-width="0.8" stroke-linecap="butt"/>
<line x1="151.34" y1="243.6" x2="151.34" y2="245.1" stroke="#1c1c1c" stroke-width="0.8" stroke-linecap="butt"/>
<line x1="154.28" y1="243.6" x2="154.28" y2="245.1" stroke="#1c1c1c" stroke-width="0.8" stroke-linecap="butt"/>
<line x1="157.22" y1="243.6" x2="157.22" y2="245.1" stroke="#1c1c1c" stroke-width="0.8" stroke-linecap="butt"/>
<line x1="160.16" y1="243.6" x2="160.16" y2="245.1" stroke="#1c1c1c" stroke-width="0.8" stroke-linecap="butt"/>
<line x1="163.1" y1="243.6" x2="163.1" y2="245.1" stroke="#1c1c1c" stroke-width="0.8" stroke-linecap="butt"/>
<line x1="166.04" y1="243.6" x2="166.04" y2="245.1" stroke="#1c1c1c" stroke-width="0.8" stroke-linecap="butt"/>
<line x1="168.98" y1="243.6" x2="168.98" y2="245.1" stroke="#1c1c1c" stroke-width="0.8" stroke-linecap="butt"/>
<line x1="171.92" y1="243.6" x2="171.92" y2="245.1" stroke="#1c1c1c" stroke-width="0.8" stroke-linecap="butt"/>
<line x1="174.86" y1="243.6" x2="174.86" y2="245.1" stroke="#1c1c1c" stroke-width="0.8" stroke-linecap="butt"/>
<line x1="177.8" y1="243.6" x2="177.8" y2="245.1" stroke="#1c1c1c" stroke-width="0.8" stroke-linecap="butt"/>
<line x1="180.74" y1="243.6" x2="180.74" y2="245.1" stroke="#1c1c1c" stroke-width="0.8" stroke-linecap="butt"/>
<line x1="183.68" y1="243.6" x2="183.68" y2="245.1" stroke="#1c1c1c" stroke-width="0.8" stroke-linecap="butt"/>
<line x1="186.62" y1="243.6" x2="186.62" y2="245.1" stroke="#1c1c1c" stroke-width="0.8" stroke-linecap="butt"/>
<line x1="189.56" y1="243.6" x2="189.56" y2="245.1" stroke="#1c1c1c" stroke-width="0.8" stroke-linecap="butt"/>
<line x1="192.5" y1="243.6" x2="192.5" y2="245.1" stroke="#1c1c1c" stroke-width="0.8" stroke-linecap="butt"/>
<line x1="195.44" y1="243.6" x2="195.44" y2="245.1" stroke="#1c1c1c" stroke-width="0.8" stroke-linecap="butt"/>
<line x1="198.38" y1="243.6" x2="198.38" y2="245.1" stroke="#1c1c1c" stroke-width="0.8" stroke-linecap="butt"/>
<line x1="201.32" y1="243.6" x2="201.32" y2="245.1" stroke="#1c1c1c" stroke-width="0.8" stroke-linecap="butt"/>
<line x1="204.26" y1="243.6" x2="204.26" y2="245.1" stroke="#1c1c1c" stroke-width="0.8" stroke-linecap="butt"/>
<line x1="207.2" y1="243.6" x2="207.2" y2="245.1" stroke="#1c1c1c" stroke-width="0.8" stroke-linecap="butt"/>
<line x1="148.4" y1="243.6" x2="148.4" y2="246.4" stroke="#1c1c1c" stroke-width="1" stroke-linecap="butt"/>
<text x="148.4" y="255.7" font-size="6.3" text-anchor="middle" font-weight="normal" fill="#2b2b2b" class="t">300</text>
<line x1="177.8" y1="243.6" x2="177.8" y2="246.4" stroke="#1c1c1c" stroke-width="1" stroke-linecap="butt"/>
<text x="177.8" y="255.7" font-size="6.3" text-anchor="middle" font-weight="normal" fill="#2b2b2b" class="t">400</text>
<line x1="207.2" y1="243.6" x2="207.2" y2="246.4" stroke="#1c1c1c" stroke-width="1" stroke-linecap="butt"/>
<text x="207.2" y="255.7" font-size="6.3" text-anchor="middle" font-weight="normal" fill="#2b2b2b" class="t">500</text>
<text x="132.4" y="236.8" font-size="6.3" text-anchor="start" font-weight="normal" fill="#2b2b2b" font-style="italic" class="t">P</text>
<text x="136.6" y="236.8" font-size="6.3" text-anchor="start" font-weight="normal" fill="#2b2b2b" textLength="15.6" lengthAdjust="spacingAndGlyphs" font-style="italic" class="t">: .003</text>
<text x="0" y="0" font-size="7.2" text-anchor="middle" font-weight="normal" fill="#2b2b2b" transform="translate(106.4 211.5) rotate(-90)" textLength="52.6" lengthAdjust="spacingAndGlyphs" class="s">Probability of survival</text>
<text x="168" y="266.6" font-size="8" text-anchor="middle" font-weight="normal" fill="#222" textLength="32" lengthAdjust="spacingAndGlyphs" class="b">Days elapsed</text>
<line x1="112.2" y1="275.2" x2="116.6" y2="275.2" stroke="#4e7cab" stroke-width="0.9" stroke-linecap="butt"/>
<line x1="114.4" y1="274.3" x2="114.4" y2="276.1" stroke="#4e7cab" stroke-width="0.7" stroke-linecap="butt"/>
<text x="120.2" y="277.2" font-size="6.3" text-anchor="start" font-weight="normal" fill="#2b2b2b" textLength="22.8" lengthAdjust="spacingAndGlyphs" class="t">Eμ-TCL1</text>
<line x1="149.6" y1="275.2" x2="155.2" y2="275.2" stroke="#d4506a" stroke-width="0.9" stroke-linecap="butt"/>
<line x1="152.4" y1="274.3" x2="152.4" y2="276.1" stroke="#d4506a" stroke-width="0.7" stroke-linecap="butt"/>
<text x="157.8" y="277.2" font-size="6.3" text-anchor="start" font-weight="normal" fill="#2b2b2b" textLength="44.5" lengthAdjust="spacingAndGlyphs" class="t">Eμ-TCL1/S100A9</text>
<text x="202.5" y="273.6" font-size="3.6" text-anchor="start" font-weight="normal" fill="#2b2b2b">-/-</text>
<text x="225.3" y="166.1" font-size="10.5" text-anchor="start" font-weight="bold" fill="#111" class="p">E</text>
<line x1="254" y1="179" x2="254" y2="244.7" stroke="#1c1c1c" stroke-width="1.3" stroke-linecap="butt"/>
<line x1="253.4" y1="244.1" x2="351.5" y2="244.1" stroke="#1c1c1c" stroke-width="1.3" stroke-linecap="butt"/>
<line x1="251" y1="244.1" x2="254" y2="244.1" stroke="#1c1c1c" stroke-width="1" stroke-linecap="butt"/>
<text x="249.4" y="246.3" font-size="6.3" text-anchor="end" font-weight="normal" fill="#2b2b2b" class="t">0</text>
<line x1="251" y1="231.73" x2="254" y2="231.73" stroke="#1c1c1c" stroke-width="1" stroke-linecap="butt"/>
<text x="249.4" y="233.93" font-size="6.3" text-anchor="end" font-weight="normal" fill="#2b2b2b" class="t">20</text>
<line x1="251" y1="219.36" x2="254" y2="219.36" stroke="#1c1c1c" stroke-width="1" stroke-linecap="butt"/>
<text x="249.4" y="221.56" font-size="6.3" text-anchor="end" font-weight="normal" fill="#2b2b2b" class="t">40</text>
<line x1="251" y1="206.99" x2="254" y2="206.99" stroke="#1c1c1c" stroke-width="1" stroke-linecap="butt"/>
<text x="249.4" y="209.19" font-size="6.3" text-anchor="end" font-weight="normal" fill="#2b2b2b" class="t">60</text>
<line x1="251" y1="194.62" x2="254" y2="194.62" stroke="#1c1c1c" stroke-width="1" stroke-linecap="butt"/>
<text x="249.4" y="196.82" font-size="6.3" text-anchor="end" font-weight="normal" fill="#2b2b2b" class="t">80</text>
<line x1="251" y1="182.25" x2="254" y2="182.25" stroke="#1c1c1c" stroke-width="1" stroke-linecap="butt"/>
<text x="249.4" y="184.45" font-size="6.3" text-anchor="end" font-weight="normal" fill="#2b2b2b" class="t">100</text>
<line x1="263.1" y1="244.1" x2="263.1" y2="247" stroke="#1c1c1c" stroke-width="1" stroke-linecap="butt"/>
<text x="263.1" y="255" font-size="6.3" text-anchor="middle" font-weight="normal" fill="#2b2b2b" class="t">1</text>
<line x1="258.8" y1="177.3" x2="267.4" y2="177.3" stroke="#3a3a3a" stroke-width="1.3" stroke-linecap="butt"/>
<text x="263.1" y="176.6" font-size="5.8" text-anchor="middle" font-weight="normal" fill="#2b2b2b" class="t">****</text>
<line x1="283.5" y1="244.1" x2="283.5" y2="247" stroke="#1c1c1c" stroke-width="1" stroke-linecap="butt"/>
<text x="283.5" y="255" font-size="6.3" text-anchor="middle" font-weight="normal" fill="#2b2b2b" class="t">2</text>
<line x1="279.2" y1="177.3" x2="287.8" y2="177.3" stroke="#3a3a3a" stroke-width="1.3" stroke-linecap="butt"/>
<text x="283.5" y="176.6" font-size="5.8" text-anchor="middle" font-weight="normal" fill="#2b2b2b" class="t">****</text>
<line x1="303.9" y1="244.1" x2="303.9" y2="247" stroke="#1c1c1c" stroke-width="1" stroke-linecap="butt"/>
<text x="303.9" y="255" font-size="6.3" text-anchor="middle" font-weight="normal" fill="#2b2b2b" class="t">3</text>
<line x1="299.6" y1="177.3" x2="308.2" y2="177.3" stroke="#3a3a3a" stroke-width="1.3" stroke-linecap="butt"/>
<text x="303.9" y="176.6" font-size="5.8" text-anchor="middle" font-weight="normal" fill="#2b2b2b" class="t">****</text>
<line x1="324.3" y1="244.1" x2="324.3" y2="247" stroke="#1c1c1c" stroke-width="1" stroke-linecap="butt"/>
<text x="324.3" y="255" font-size="6.3" text-anchor="middle" font-weight="normal" fill="#2b2b2b" class="t">4</text>
<line x1="320" y1="177.3" x2="328.6" y2="177.3" stroke="#3a3a3a" stroke-width="1.3" stroke-linecap="butt"/>
<text x="324.3" y="176.6" font-size="5.8" text-anchor="middle" font-weight="normal" fill="#2b2b2b" class="t">****</text>
<line x1="344.7" y1="244.1" x2="344.7" y2="247" stroke="#1c1c1c" stroke-width="1" stroke-linecap="butt"/>
<text x="344.7" y="255" font-size="6.3" text-anchor="middle" font-weight="normal" fill="#2b2b2b" class="t">5</text>
<line x1="340.4" y1="177.3" x2="349" y2="177.3" stroke="#3a3a3a" stroke-width="1.3" stroke-linecap="butt"/>
<text x="344.7" y="176.6" font-size="5.8" text-anchor="middle" font-weight="normal" fill="#2b2b2b" class="t">****</text>
<text x="0" y="0" font-size="7.2" text-anchor="middle" font-weight="normal" fill="#2b2b2b" transform="translate(233.5 212) rotate(-90)" textLength="70" lengthAdjust="spacingAndGlyphs" class="s">%CD19+/CD5+ cells (CD45)</text>
<text x="304" y="266.4" font-size="8" text-anchor="middle" font-weight="normal" fill="#222" textLength="51" lengthAdjust="spacingAndGlyphs" class="b">Weeks post injection</text>
<circle cx="258.24" cy="219.7" r="1.3" fill="#1f4f85"/>
<circle cx="259.59" cy="221.8" r="1.3" fill="#1f4f85"/>
<circle cx="260.85" cy="224" r="1.3" fill="#1f4f85"/>
<circle cx="258.26" cy="227.1" r="1.3" fill="#1f4f85"/>
<circle cx="259.3" cy="229.2" r="1.3" fill="#1f4f85"/>
<circle cx="260.75" cy="228.5" r="1.3" fill="#1f4f85"/>
<circle cx="258.32" cy="226" r="1.3" fill="#1f4f85"/>
<line x1="259.6" y1="220.5" x2="259.6" y2="229" stroke="#1f4f85" stroke-width="0.9" stroke-linecap="butt"/>
<line x1="256" y1="224.6" x2="263.2" y2="224.6" stroke="#1f4f85" stroke-width="0.9" stroke-linecap="butt"/>
<line x1="257.44" y1="220.5" x2="261.76" y2="220.5" stroke="#1f4f85" stroke-width="0.9" stroke-linecap="butt"/>
<line x1="257.44" y1="229" x2="261.76" y2="229" stroke="#1f4f85" stroke-width="0.9" stroke-linecap="butt"/>
<circle cx="265.77" cy="242.3" r="1.25" fill="#c4173a"/>
<circle cx="267.35" cy="243" r="1.25" fill="#c4173a"/>
<circle cx="268.29" cy="242.6" r="1.25" fill="#c4173a"/>
<circle cx="265.72" cy="243.3" r="1.25" fill="#c4173a"/>
<circle cx="267.02" cy="242.8" r="1.25" fill="#c4173a"/>
<circle cx="279.11" cy="189.5" r="1.3" fill="#1f4f85"/>
<circle cx="279.93" cy="194.3" r="1.3" fill="#1f4f85"/>
<circle cx="281.64" cy="195.8" r="1.3" fill="#1f4f85"/>
<circle cx="279.17" cy="197.5" r="1.3" fill="#1f4f85"/>
<circle cx="280.42" cy="202.8" r="1.3" fill="#1f4f85"/>
<circle cx="281.58" cy="204.9" r="1.3" fill="#1f4f85"/>
<circle cx="278.94" cy="196.5" r="1.3" fill="#1f4f85"/>
<line x1="280.2" y1="190" x2="280.2" y2="203" stroke="#1f4f85" stroke-width="0.9" stroke-linecap="butt"/>
<line x1="276.6" y1="196.5" x2="283.8" y2="196.5" stroke="#1f4f85" stroke-width="0.9" stroke-linecap="butt"/>
<line x1="278.04" y1="190" x2="282.36" y2="190" stroke="#1f4f85" stroke-width="0.9" stroke-linecap="butt"/>
<line x1="278.04" y1="203" x2="282.36" y2="203" stroke="#1f4f85" stroke-width="0.9" stroke-linecap="butt"/>
<circle cx="285.9" cy="242.6" r="1.25" fill="#c4173a"/>
<circle cx="286.8" cy="243.2" r="1.25" fill="#c4173a"/>
<circle cx="288.53" cy="243" r="1.25" fill="#c4173a"/>
<circle cx="285.56" cy="242.4" r="1.25" fill="#c4173a"/>
<circle cx="299.14" cy="186.9" r="1.3" fill="#1f4f85"/>
<circle cx="300.43" cy="190.1" r="1.3" fill="#1f4f85"/>
<circle cx="301.6" cy="193.3" r="1.3" fill="#1f4f85"/>
<circle cx="299.3" cy="195" r="1.3" fill="#1f4f85"/>
<circle cx="300.33" cy="196.4" r="1.3" fill="#1f4f85"/>
<circle cx="301.5" cy="198.6" r="1.3" fill="#1f4f85"/>
<circle cx="299.19" cy="194" r="1.3" fill="#1f4f85"/>
<line x1="300.6" y1="188" x2="300.6" y2="198" stroke="#1f4f85" stroke-width="0.9" stroke-linecap="butt"/>
<line x1="297" y1="193.5" x2="304.2" y2="193.5" stroke="#1f4f85" stroke-width="0.9" stroke-linecap="butt"/>
<line x1="298.44" y1="188" x2="302.76" y2="188" stroke="#1f4f85" stroke-width="0.9" stroke-linecap="butt"/>
<line x1="298.44" y1="198" x2="302.76" y2="198" stroke="#1f4f85" stroke-width="0.9" stroke-linecap="butt"/>
<circle cx="306" cy="238.1" r="1.25" fill="#c4173a"/>
<circle cx="307.46" cy="242.2" r="1.25" fill="#c4173a"/>
<circle cx="308.33" cy="243.1" r="1.25" fill="#c4173a"/>
<circle cx="306.77" cy="242.6" r="1.25" fill="#c4173a"/>
<circle cx="307.71" cy="243.3" r="1.25" fill="#c4173a"/>
<circle cx="308.45" cy="242" r="1.25" fill="#c4173a"/>
<circle cx="319.85" cy="184.4" r="1.3" fill="#1f4f85"/>
<circle cx="321.11" cy="189" r="1.3" fill="#1f4f85"/>
<circle cx="322.32" cy="191.2" r="1.3" fill="#1f4f85"/>
<circle cx="319.77" cy="192.2" r="1.3" fill="#1f4f85"/>
<circle cx="321.41" cy="190.5" r="1.3" fill="#1f4f85"/>
<line x1="321.2" y1="186" x2="321.2" y2="192.5" stroke="#1f4f85" stroke-width="0.9" stroke-linecap="butt"/>
<line x1="317.6" y1="189.5" x2="324.8" y2="189.5" stroke="#1f4f85" stroke-width="0.9" stroke-linecap="butt"/>
<line x1="319.04" y1="186" x2="323.36" y2="186" stroke="#1f4f85" stroke-width="0.9" stroke-linecap="butt"/>
<line x1="319.04" y1="192.5" x2="323.36" y2="192.5" stroke="#1f4f85" stroke-width="0.9" stroke-linecap="butt"/>
<circle cx="327.51" cy="227.5" r="1.25" fill="#c4173a"/>
<circle cx="328.27" cy="229.2" r="1.25" fill="#c4173a"/>
<circle cx="329.56" cy="231.3" r="1.25" fill="#c4173a"/>
<circle cx="326.61" cy="234.5" r="1.25" fill="#c4173a"/>
<circle cx="327.9" cy="237.7" r="1.25" fill="#c4173a"/>
<circle cx="329.42" cy="239.8" r="1.25" fill="#c4173a"/>
<circle cx="326.78" cy="241.9" r="1.25" fill="#c4173a"/>
<circle cx="328.63" cy="243" r="1.25" fill="#c4173a"/>
<circle cx="329.24" cy="242.4" r="1.25" fill="#c4173a"/>
<circle cx="326.54" cy="243.2" r="1.25" fill="#c4173a"/>
<line x1="328.3" y1="229" x2="328.3" y2="243" stroke="#c4173a" stroke-width="0.9" stroke-linecap="butt"/>
<line x1="324.7" y1="237.3" x2="331.9" y2="237.3" stroke="#c4173a" stroke-width="0.9" stroke-linecap="butt"/>
<line x1="326.14" y1="229" x2="330.46" y2="229" stroke="#c4173a" stroke-width="0.9" stroke-linecap="butt"/>
<line x1="326.14" y1="243" x2="330.46" y2="243" stroke="#c4173a" stroke-width="0.9" stroke-linecap="butt"/>
<circle cx="340.37" cy="183.8" r="1.3" fill="#1f4f85"/>
<circle cx="341.32" cy="185.9" r="1.3" fill="#1f4f85"/>
<circle cx="342.29" cy="188" r="1.3" fill="#1f4f85"/>
<circle cx="340.13" cy="189.5" r="1.3" fill="#1f4f85"/>
<circle cx="341.02" cy="186.5" r="1.3" fill="#1f4f85"/>
<line x1="341.3" y1="184.5" x2="341.3" y2="189" stroke="#1f4f85" stroke-width="0.9" stroke-linecap="butt"/>
<line x1="337.7" y1="186.8" x2="344.9" y2="186.8" stroke="#1f4f85" stroke-width="0.9" stroke-linecap="butt"/>
<line x1="339.14" y1="184.5" x2="343.46" y2="184.5" stroke="#1f4f85" stroke-width="0.9" stroke-linecap="butt"/>
<line x1="339.14" y1="189" x2="343.46" y2="189" stroke="#1f4f85" stroke-width="0.9" stroke-linecap="butt"/>
<circle cx="347.15" cy="199.6" r="1.25" fill="#c4173a"/>
<circle cx="348.88" cy="201.7" r="1.25" fill="#c4173a"/>
<circle cx="350.04" cy="207" r="1.25" fill="#c4173a"/>
<circle cx="347.32" cy="210.2" r="1.25" fill="#c4173a"/>
<circle cx="348.16" cy="211.3" r="1.25" fill="#c4173a"/>
<circle cx="349.55" cy="227.1" r="1.25" fill="#c4173a"/>
<circle cx="346.79" cy="232.4" r="1.25" fill="#c4173a"/>
<circle cx="348.67" cy="237.7" r="1.25" fill="#c4173a"/>
<line x1="348.4" y1="201" x2="348.4" y2="236" stroke="#c4173a" stroke-width="0.9" stroke-linecap="butt"/>
<line x1="344.8" y1="217" x2="352" y2="217" stroke="#c4173a" stroke-width="0.9" stroke-linecap="butt"/>
<line x1="346.24" y1="201" x2="350.56" y2="201" stroke="#c4173a" stroke-width="0.9" stroke-linecap="butt"/>
<line x1="346.24" y1="236" x2="350.56" y2="236" stroke="#c4173a" stroke-width="0.9" stroke-linecap="butt"/>
<text x="371.3" y="166.6" font-size="10.5" text-anchor="start" font-weight="bold" fill="#111" class="p">F</text>
<line x1="407.8" y1="179.4" x2="407.8" y2="198" stroke="#1c1c1c" stroke-width="1.3" stroke-linecap="butt"/>
<line x1="407.8" y1="202.3" x2="407.8" y2="229.6" stroke="#1c1c1c" stroke-width="1.3" stroke-linecap="butt"/>
<line x1="407.8" y1="232.2" x2="407.8" y2="244.8" stroke="#1c1c1c" stroke-width="1.3" stroke-linecap="butt"/>
<line x1="406.2" y1="199.4" x2="409.4" y2="197.2" stroke="#1c1c1c" stroke-width="0.8" stroke-linecap="butt"/>
<line x1="406.2" y1="203.3" x2="409.4" y2="201.1" stroke="#1c1c1c" stroke-width="0.8" stroke-linecap="butt"/>
<line x1="406.2" y1="230.6" x2="409.4" y2="228.6" stroke="#1c1c1c" stroke-width="0.8" stroke-linecap="butt"/>
<line x1="406.2" y1="233.2" x2="409.4" y2="231.2" stroke="#1c1c1c" stroke-width="0.8" stroke-linecap="butt"/>
<line x1="407.2" y1="244.2" x2="514" y2="244.2" stroke="#1c1c1c" stroke-width="1.3" stroke-linecap="butt"/>
<line x1="404.8" y1="182.2" x2="407.8" y2="182.2" stroke="#1c1c1c" stroke-width="1" stroke-linecap="butt"/>
<text x="402.2" y="184.4" font-size="6.2" text-anchor="end" font-weight="normal" fill="#2b2b2b" class="t">300000</text>
<line x1="404.8" y1="187.8" x2="407.8" y2="187.8" stroke="#1c1c1c" stroke-width="1" stroke-linecap="butt"/>
<text x="402.2" y="190" font-size="6.2" text-anchor="end" font-weight="normal" fill="#2b2b2b" class="t">200000</text>
<line x1="404.8" y1="193.3" x2="407.8" y2="193.3" stroke="#1c1c1c" stroke-width="1" stroke-linecap="butt"/>
<text x="402.2" y="195.5" font-size="6.2" text-anchor="end" font-weight="normal" fill="#2b2b2b" class="t">100000</text>
<line x1="404.8" y1="202.3" x2="407.8" y2="202.3" stroke="#1c1c1c" stroke-width="1" stroke-linecap="butt"/>
<text x="402.2" y="204.5" font-size="6.2" text-anchor="end" font-weight="normal" fill="#2b2b2b" class="t">20000</text>
<line x1="404.8" y1="209.3" x2="407.8" y2="209.3" stroke="#1c1c1c" stroke-width="1" stroke-linecap="butt"/>
<text x="402.2" y="211.5" font-size="6.2" text-anchor="end" font-weight="normal" fill="#2b2b2b" class="t">15000</text>
<line x1="404.8" y1="216.1" x2="407.8" y2="216.1" stroke="#1c1c1c" stroke-width="1" stroke-linecap="butt"/>
<text x="402.2" y="218.3" font-size="6.2" text-anchor="end" font-weight="normal" fill="#2b2b2b" class="t">10000</text>
<line x1="404.8" y1="222.9" x2="407.8" y2="222.9" stroke="#1c1c1c" stroke-width="1" stroke-linecap="butt"/>
<text x="402.2" y="225.1" font-size="6.2" text-anchor="end" font-weight="normal" fill="#2b2b2b" class="t">5000</text>
<line x1="404.8" y1="233.6" x2="407.8" y2="233.6" stroke="#1c1c1c" stroke-width="1" stroke-linecap="butt"/>
<text x="402.2" y="235.8" font-size="6.2" text-anchor="end" font-weight="normal" fill="#2b2b2b" class="t">0</text>
<line x1="404.8" y1="239.9" x2="407.8" y2="239.9" stroke="#1c1c1c" stroke-width="1" stroke-linecap="butt"/>
<text x="402.2" y="242.1" font-size="6.2" text-anchor="end" font-weight="normal" fill="#2b2b2b" class="t">−15000</text>
<line x1="417.2" y1="244.2" x2="417.2" y2="247" stroke="#1c1c1c" stroke-width="1" stroke-linecap="butt"/>
<text x="417.2" y="255.6" font-size="6.3" text-anchor="middle" font-weight="normal" fill="#2b2b2b" class="t">1</text>
<line x1="438.7" y1="244.2" x2="438.7" y2="247" stroke="#1c1c1c" stroke-width="1" stroke-linecap="butt"/>
<text x="438.7" y="255.6" font-size="6.3" text-anchor="middle" font-weight="normal" fill="#2b2b2b" class="t">2</text>
<line x1="460.2" y1="244.2" x2="460.2" y2="247" stroke="#1c1c1c" stroke-width="1" stroke-linecap="butt"/>
<text x="460.2" y="255.6" font-size="6.3" text-anchor="middle" font-weight="normal" fill="#2b2b2b" class="t">3</text>
<line x1="481.7" y1="244.2" x2="481.7" y2="247" stroke="#1c1c1c" stroke-width="1" stroke-linecap="butt"/>
<text x="481.7" y="255.6" font-size="6.3" text-anchor="middle" font-weight="normal" fill="#2b2b2b" class="t">4</text>
<line x1="503.2" y1="244.2" x2="503.2" y2="247" stroke="#1c1c1c" stroke-width="1" stroke-linecap="butt"/>
<text x="503.2" y="255.6" font-size="6.3" text-anchor="middle" font-weight="normal" fill="#2b2b2b" class="t">5</text>
<line x1="413.2" y1="176.3" x2="421.2" y2="176.3" stroke="#3a3a3a" stroke-width="1.3" stroke-linecap="butt"/>
<text x="417.2" y="175.6" font-size="5.8" text-anchor="middle" font-weight="normal" fill="#2b2b2b" class="t">****</text>
<line x1="434.7" y1="176.3" x2="442.7" y2="176.3" stroke="#3a3a3a" stroke-width="1.3" stroke-linecap="butt"/>
<text x="438.7" y="175.6" font-size="5.8" text-anchor="middle" font-weight="normal" fill="#2b2b2b" class="t">**</text>
<line x1="456.2" y1="176.3" x2="464.2" y2="176.3" stroke="#3a3a3a" stroke-width="1.3" stroke-linecap="butt"/>
<text x="460.2" y="175.6" font-size="5.8" text-anchor="middle" font-weight="normal" fill="#2b2b2b" class="t">**</text>
<line x1="477.7" y1="176.3" x2="485.7" y2="176.3" stroke="#3a3a3a" stroke-width="1.3" stroke-linecap="butt"/>
<text x="481.7" y="174.4" font-size="6" text-anchor="middle" font-weight="normal" fill="#2b2b2b" class="t">ns</text>
<line x1="499.2" y1="176.3" x2="507.2" y2="176.3" stroke="#3a3a3a" stroke-width="1.3" stroke-linecap="butt"/>
<text x="503.2" y="175.6" font-size="5.8" text-anchor="middle" font-weight="normal" fill="#2b2b2b" class="t">*</text>
<line x1="425.5" y1="233.6" x2="512" y2="233.6" stroke="#7fae86" stroke-width="1" stroke-linecap="butt" stroke-dasharray="0.9,1.6"/>
<text x="0" y="0" font-size="7.2" text-anchor="middle" font-weight="normal" fill="#2b2b2b" transform="translate(375.1 212) rotate(-90)" textLength="70.6" lengthAdjust="spacingAndGlyphs" class="s">CD19+/CD5+ cells/uL blood</text>
<text x="460.5" y="266" font-size="8" text-anchor="middle" font-weight="normal" fill="#222" textLength="51" lengthAdjust="spacingAndGlyphs" class="b">Weeks post injection</text>
<rect x="411" y="227.6" width="5" height="2.4" rx="1.2" fill="#1f4f85"/>
<circle cx="413.3" cy="233.6" r="1.2" fill="#1f4f85"/>
<rect x="418.6" y="232.3" width="5.6" height="2.6" rx="1.3" fill="#c4173a"/>
<circle cx="433.55" cy="221.3" r="1.25" fill="#1f4f85"/>
<circle cx="435.08" cy="223" r="1.25" fill="#1f4f85"/>
<circle cx="435.91" cy="224.5" r="1.25" fill="#1f4f85"/>
<circle cx="433.24" cy="225.8" r="1.25" fill="#1f4f85"/>
<circle cx="435.11" cy="226.5" r="1.25" fill="#1f4f85"/>
<circle cx="436.56" cy="227.3" r="1.25" fill="#1f4f85"/>
<rect x="440.3" y="232.3" width="5.5" height="2.6" rx="1.3" fill="#c4173a"/>
<circle cx="455.47" cy="208.8" r="1.25" fill="#1f4f85"/>
<circle cx="456.71" cy="212" r="1.25" fill="#1f4f85"/>
<circle cx="458" cy="216" r="1.25" fill="#1f4f85"/>
<circle cx="455.36" cy="219.6" r="1.25" fill="#1f4f85"/>
<circle cx="456.13" cy="221.5" r="1.25" fill="#1f4f85"/>
<circle cx="457.7" cy="222.5" r="1.25" fill="#1f4f85"/>
<circle cx="454.98" cy="223.8" r="1.25" fill="#1f4f85"/>
<circle cx="455.93" cy="224.5" r="1.25" fill="#1f4f85"/>
<line x1="456.4" y1="212" x2="456.4" y2="224" stroke="#1f4f85" stroke-width="0.9" stroke-linecap="butt"/>
<line x1="453.8" y1="220.5" x2="459" y2="220.5" stroke="#1f4f85" stroke-width="0.9" stroke-linecap="butt"/>
<line x1="454.84" y1="212" x2="457.96" y2="212" stroke="#1f4f85" stroke-width="0.9" stroke-linecap="butt"/>
<line x1="454.84" y1="224" x2="457.96" y2="224" stroke="#1f4f85" stroke-width="0.9" stroke-linecap="butt"/>
<rect x="461.8" y="232.3" width="5.5" height="2.6" rx="1.3" fill="#c4173a"/>
<line x1="477.8" y1="222" x2="477.8" y2="243.8" stroke="#8fa6bd" stroke-width="0.9" stroke-linecap="butt"/>
<circle cx="476.37" cy="189" r="1.25" fill="#1f4f85"/>
<circle cx="477.58" cy="197.2" r="1.25" fill="#1f4f85"/>
<circle cx="478.52" cy="203" r="1.25" fill="#1f4f85"/>
<circle cx="477.03" cy="205.5" r="1.25" fill="#1f4f85"/>
<circle cx="478.26" cy="206.5" r="1.25" fill="#1f4f85"/>
<circle cx="478.71" cy="210" r="1.25" fill="#1f4f85"/>
<circle cx="477.28" cy="214" r="1.25" fill="#1f4f85"/>
<circle cx="478.29" cy="218" r="1.25" fill="#1f4f85"/>
<circle cx="479.22" cy="222.7" r="1.25" fill="#1f4f85"/>
<line x1="477.8" y1="196.5" x2="477.8" y2="222" stroke="#1f4f85" stroke-width="0.9" stroke-linecap="butt"/>
<line x1="475.2" y1="205.4" x2="480.4" y2="205.4" stroke="#1f4f85" stroke-width="0.9" stroke-linecap="butt"/>
<line x1="476.24" y1="196.5" x2="479.36" y2="196.5" stroke="#1f4f85" stroke-width="0.9" stroke-linecap="butt"/>
<line x1="476.24" y1="222" x2="479.36" y2="222" stroke="#1f4f85" stroke-width="0.9" stroke-linecap="butt"/>
<circle cx="486.3" cy="228.5" r="1.2" fill="#c4173a"/>
<rect x="483.6" y="232.3" width="5.4" height="2.6" rx="1.3" fill="#c4173a"/>
<circle cx="497.94" cy="183.3" r="1.25" fill="#1f4f85"/>
<circle cx="498.92" cy="193.8" r="1.25" fill="#1f4f85"/>
<circle cx="500.05" cy="195" r="1.25" fill="#1f4f85"/>
<circle cx="497.78" cy="196" r="1.25" fill="#1f4f85"/>
<circle cx="498.9" cy="209.6" r="1.25" fill="#1f4f85"/>
<line x1="499.2" y1="190" x2="499.2" y2="216" stroke="#1f4f85" stroke-width="0.9" stroke-linecap="butt"/>
<line x1="496.6" y1="195" x2="501.8" y2="195" stroke="#1f4f85" stroke-width="0.9" stroke-linecap="butt"/>
<line x1="497.64" y1="190" x2="500.76" y2="190" stroke="#1f4f85" stroke-width="0.9" stroke-linecap="butt"/>
<line x1="497.64" y1="216" x2="500.76" y2="216" stroke="#1f4f85" stroke-width="0.9" stroke-linecap="butt"/>
<circle cx="506.6" cy="219.8" r="1.25" fill="#c4173a"/>
<circle cx="508" cy="224" r="1.25" fill="#c4173a"/>
<circle cx="509.06" cy="225.5" r="1.25" fill="#c4173a"/>
<circle cx="506.46" cy="226.8" r="1.25" fill="#c4173a"/>
<circle cx="507.75" cy="228" r="1.25" fill="#c4173a"/>
<rect x="505" y="232.3" width="5.4" height="2.6" rx="1.3" fill="#c4173a"/>
<circle cx="414.3" cy="274.5" r="1" fill="#1f4f85"/>
<text x="418" y="276.6" font-size="6.3" text-anchor="start" font-weight="normal" fill="#2b2b2b" textLength="23.5" lengthAdjust="spacingAndGlyphs" class="t">Eu-TCL1</text>
<circle cx="448" cy="274.5" r="1" fill="#c4173a"/>
<text x="452" y="276.6" font-size="6.3" text-anchor="start" font-weight="normal" fill="#2b2b2b" textLength="48.5" lengthAdjust="spacingAndGlyphs" class="t">Eu-TCL1/S100A9</text>
<text x="501" y="273" font-size="3.6" text-anchor="start" font-weight="normal" fill="#2b2b2b">-/-</text>
<text x="6.5" y="306.6" font-size="10.5" text-anchor="start" font-weight="bold" fill="#111" class="p">G</text>
<defs>
<linearGradient id="gbg" x1="0" y1="0" x2="0" y2="1">
<stop offset="0" stop-color="#e6e3dc"/><stop offset="0.55" stop-color="#eae7e1"/><stop offset="1" stop-color="#edebe6"/>
</linearGradient>
<radialGradient id="gwh" cx="0.5" cy="0.5" r="0.5">
<stop offset="0" stop-color="#fbfaf9"/><stop offset="0.7" stop-color="#f8f7f5"/><stop offset="1" stop-color="#f3f1ee" stop-opacity="0"/>
</radialGradient>
<radialGradient id="gsp" cx="0.45" cy="0.45" r="0.6">
<stop offset="0" stop-color="#703339"/><stop offset="0.65" stop-color="#5e2530"/><stop offset="1" stop-color="#4a1a22"/>
</radialGradient>
<filter id="blur1" x="-20%" y="-20%" width="140%" height="140%"><feGaussianBlur stdDeviation="0.45"/></filter>
<filter id="blur3" x="-30%" y="-30%" width="160%" height="160%"><feGaussianBlur stdDeviation="2.5"/></filter>
<filter id="blur2" x="-30%" y="-30%" width="160%" height="160%"><feGaussianBlur stdDeviation="1.2"/></filter>
</defs>
<rect x="38.2" y="327" width="143.2" height="68.5" fill="url(#gbg)"/>
<rect x="58.5" y="366" width="41" height="27" rx="6" fill="#f6f4f1" filter="url(#blur3)"/>
<rect x="61" y="368" width="36" height="22" rx="4" fill="#fbfaf8" filter="url(#blur2)"/>
<rect x="174" y="384" width="7" height="11" rx="3" fill="#f6f4f1" filter="url(#blur3)"/>
<g filter="url(#blur1)"><path d="M0.0 0.5 C0.0 0.1 0.3 0.0 0.5 0.05 C0.75 0.0 1.0 0.15 1.0 0.5 C1.0 0.85 0.75 1.0 0.5 0.95 C0.25 1.0 0.0 0.9 0.0 0.5 Z" transform="translate(43.8 328.6) scale(10.4 5.6)" fill="url(#gsp)"/></g>
<g filter="url(#blur1)"><path d="M0.0 0.5 C0.0 0.1 0.3 0.0 0.5 0.05 C0.75 0.0 1.0 0.15 1.0 0.5 C1.0 0.85 0.75 1.0 0.5 0.95 C0.25 1.0 0.0 0.9 0.0 0.5 Z" transform="translate(77.5 329.8) scale(10.5 4.4)" fill="url(#gsp)"/></g>
<g filter="url(#blur1)"><path d="M0.0 0.25 C0.05 0.08 0.22 0.15 0.45 0.24 C0.65 0.28 0.85 0.15 0.97 0.0 C1.03 0.3 0.95 0.65 0.78 0.82 C0.6 0.98 0.35 1.02 0.18 0.95 C0.03 0.88 -0.02 0.5 0.0 0.25 Z" transform="translate(40.3 346.1) scale(27.2 15.6)" fill="url(#gsp)"/></g>
<g filter="url(#blur1)"><path d="M0.0 0.25 C0.05 0.08 0.22 0.15 0.45 0.24 C0.65 0.28 0.85 0.15 0.97 0.0 C1.03 0.3 0.95 0.65 0.78 0.82 C0.6 0.98 0.35 1.02 0.18 0.95 C0.03 0.88 -0.02 0.5 0.0 0.25 Z" transform="translate(73.7 347.3) scale(22 15.4)" fill="url(#gsp)"/></g>
<g filter="url(#blur1)"><path d="M0.0 0.25 C0.05 0.08 0.22 0.15 0.45 0.24 C0.65 0.28 0.85 0.15 0.97 0.0 C1.03 0.3 0.95 0.65 0.78 0.82 C0.6 0.98 0.35 1.02 0.18 0.95 C0.03 0.88 -0.02 0.5 0.0 0.25 Z" transform="translate(101 347.8) scale(21 12.8)" fill="url(#gsp)"/></g>
<g filter="url(#blur1)"><path d="M0.02 0.55 C0.02 0.3 0.15 0.25 0.3 0.3 C0.4 0.35 0.5 0.3 0.6 0.15 C0.72 -0.02 0.95 0.0 0.99 0.3 C1.02 0.6 0.95 0.95 0.75 0.98 C0.6 1.0 0.5 0.85 0.4 0.82 C0.25 0.85 0.05 0.9 0.02 0.55 Z" transform="translate(127.8 347.7) scale(22.8 11.7)" fill="url(#gsp)"/></g>
<g filter="url(#blur1)"><path d="M0.02 0.45 C0.0 0.2 0.15 0.12 0.3 0.15 C0.45 0.18 0.55 0.28 0.62 0.25 C0.72 0.1 0.85 -0.02 0.95 0.08 C1.03 0.2 1.0 0.55 0.88 0.7 C0.75 0.85 0.55 1.0 0.3 0.98 C0.1 0.95 0.03 0.7 0.02 0.45 Z" transform="translate(154 346.2) scale(26.8 15.8)" fill="url(#gsp)"/></g>
<g filter="url(#blur1)"><path d="M0.0 0.25 C0.05 0.08 0.22 0.15 0.45 0.24 C0.65 0.28 0.85 0.15 0.97 0.0 C1.03 0.3 0.95 0.65 0.78 0.82 C0.6 0.98 0.35 1.02 0.18 0.95 C0.03 0.88 -0.02 0.5 0.0 0.25 Z" transform="translate(43 378.7) scale(13 8.6)" fill="url(#gsp)"/></g>
<g filter="url(#blur1)"><path d="M0.0 0.45 C0.0 0.05 0.25 0.0 0.42 0.2 C0.58 0.38 0.8 0.32 1.0 0.22 C0.99 0.6 0.8 0.95 0.5 1.0 C0.25 1.03 0.0 0.85 0.0 0.45 Z" transform="translate(74 375) scale(18.2 9)" fill="url(#gsp)"/></g>
<g filter="url(#blur1)"><path d="M0.0 0.45 C0.0 0.05 0.25 0.0 0.42 0.2 C0.58 0.38 0.8 0.32 1.0 0.22 C0.99 0.6 0.8 0.95 0.5 1.0 C0.25 1.03 0.0 0.85 0.0 0.45 Z" transform="translate(102.6 377.6) scale(13.2 7.2)" fill="url(#gsp)"/></g>
<g filter="url(#blur1)"><path d="M0.0 0.25 C0.05 0.08 0.22 0.15 0.45 0.24 C0.65 0.28 0.85 0.15 0.97 0.0 C1.03 0.3 0.95 0.65 0.78 0.82 C0.6 0.98 0.35 1.02 0.18 0.95 C0.03 0.88 -0.02 0.5 0.0 0.25 Z" transform="translate(126 373.2) scale(18.5 12.2)" fill="url(#gsp)"/></g>
<g filter="url(#blur1)"><path d="M0.0 0.5 C0.0 0.1 0.3 0.0 0.5 0.05 C0.75 0.0 1.0 0.15 1.0 0.5 C1.0 0.85 0.75 1.0 0.5 0.95 C0.25 1.0 0.0 0.9 0.0 0.5 Z" transform="translate(154.6 377.2) scale(15.4 7.4)" fill="url(#gsp)"/></g>
<ellipse cx="52" cy="352" rx="2" ry="1" fill="#8a5562" opacity="0.45"/>
<ellipse cx="84" cy="354" rx="2" ry="1" fill="#8a5562" opacity="0.45"/>
<ellipse cx="112" cy="353" rx="2" ry="1" fill="#8a5562" opacity="0.45"/>
<ellipse cx="137" cy="352" rx="2" ry="1" fill="#8a5562" opacity="0.45"/>
<ellipse cx="165" cy="354" rx="2" ry="1" fill="#8a5562" opacity="0.45"/>
<ellipse cx="81" cy="378" rx="2" ry="1" fill="#8a5562" opacity="0.45"/>
<text x="34.7" y="339" font-size="6" text-anchor="end" font-weight="normal" fill="#2b2b2b" class="t">No</text>
<text x="34.7" y="346.2" font-size="6" text-anchor="end" font-weight="normal" fill="#2b2b2b" class="t">Injected</text>
<text x="34.7" y="366.2" font-size="6" text-anchor="end" font-weight="normal" fill="#2b2b2b" class="t">Eu-TCL1</text>
<text x="34.7" y="382.4" font-size="6" text-anchor="end" font-weight="normal" fill="#2b2b2b" class="t">EuTCL1/</text>
<text x="29.6" y="389.8" font-size="6" text-anchor="end" font-weight="normal" fill="#2b2b2b" class="t">S100A9</text>
<text x="34.9" y="386.8" font-size="3.6" text-anchor="end" font-weight="normal" fill="#2b2b2b">-/-</text>
<text x="196" y="306.6" font-size="10.5" text-anchor="start" font-weight="bold" fill="#111" class="p">H</text>
<rect x="239.3" y="359.12" width="12.5" height="37.18" fill="#85a6ca"/>
<rect x="260" y="392.69" width="11.5" height="3.61" fill="#e88c9d"/>
<circle cx="245.55" cy="334.39" r="1.25" fill="#1d4273"/>
<circle cx="245.55" cy="341.79" r="1.25" fill="#1d4273"/>
<circle cx="245.55" cy="365.98" r="1.25" fill="#1d4273"/>
<circle cx="245.55" cy="370.49" r="1.25" fill="#1d4273"/>
<circle cx="245.55" cy="378.97" r="1.25" fill="#1d4273"/>
<line x1="245.55" y1="339.44" x2="245.55" y2="377.71" stroke="#1f4f82" stroke-width="1" stroke-linecap="butt"/>
<line x1="241.25" y1="339.44" x2="249.85" y2="339.44" stroke="#1f4f82" stroke-width="1" stroke-linecap="butt"/>
<line x1="241.25" y1="377.71" x2="249.85" y2="377.71" stroke="#1f4f82" stroke-width="1" stroke-linecap="butt"/>
<circle cx="265.75" cy="387.82" r="1.25" fill="#b5122f"/>
<circle cx="263.75" cy="389.62" r="1.25" fill="#b5122f"/>
<circle cx="267.75" cy="390.34" r="1.25" fill="#b5122f"/>
<circle cx="262.75" cy="392.15" r="1.25" fill="#b5122f"/>
<circle cx="265.75" cy="392.69" r="1.25" fill="#b5122f"/>
<circle cx="268.75" cy="393.05" r="1.25" fill="#b5122f"/>
<circle cx="263.75" cy="394.68" r="1.25" fill="#b5122f"/>
<circle cx="267.75" cy="395.04" r="1.25" fill="#b5122f"/>
<circle cx="265.75" cy="395.58" r="1.25" fill="#b5122f"/>
<line x1="265.75" y1="390.34" x2="265.75" y2="394.86" stroke="#cc1b3d" stroke-width="1" stroke-linecap="butt"/>
<line x1="261.45" y1="390.34" x2="270.05" y2="390.34" stroke="#cc1b3d" stroke-width="1" stroke-linecap="butt"/>
<line x1="261.45" y1="394.86" x2="270.05" y2="394.86" stroke="#cc1b3d" stroke-width="1" stroke-linecap="butt"/>
<line x1="231.9" y1="321.5" x2="231.9" y2="396.9" stroke="#1c1c1c" stroke-width="1.3" stroke-linecap="butt"/>
<line x1="229.4" y1="396.3" x2="279.2" y2="396.3" stroke="#1c1c1c" stroke-width="1.3" stroke-linecap="butt"/>
<line x1="228.9" y1="396.3" x2="231.9" y2="396.3" stroke="#1c1c1c" stroke-width="1" stroke-linecap="butt"/>
<text x="228" y="398.6" font-size="6.5" text-anchor="end" font-weight="normal" fill="#3a3a3a" class="t">0</text>
<line x1="228.9" y1="378.25" x2="231.9" y2="378.25" stroke="#1c1c1c" stroke-width="1" stroke-linecap="butt"/>
<text x="228" y="380.55" font-size="6.5" text-anchor="end" font-weight="normal" fill="#3a3a3a" class="t">10000</text>
<line x1="228.9" y1="360.2" x2="231.9" y2="360.2" stroke="#1c1c1c" stroke-width="1" stroke-linecap="butt"/>
<text x="228" y="362.5" font-size="6.5" text-anchor="end" font-weight="normal" fill="#3a3a3a" class="t">20000</text>
<line x1="228.9" y1="342.15" x2="231.9" y2="342.15" stroke="#1c1c1c" stroke-width="1" stroke-linecap="butt"/>
<text x="228" y="344.45" font-size="6.5" text-anchor="end" font-weight="normal" fill="#3a3a3a" class="t">30000</text>
<line x1="228.9" y1="324.1" x2="231.9" y2="324.1" stroke="#1c1c1c" stroke-width="1" stroke-linecap="butt"/>
<text x="228" y="326.4" font-size="6.5" text-anchor="end" font-weight="normal" fill="#3a3a3a" class="t">40000</text>
<line x1="245.55" y1="396.3" x2="245.55" y2="399.3" stroke="#1c1c1c" stroke-width="1" stroke-linecap="butt"/>
<line x1="265.75" y1="396.3" x2="265.75" y2="399.3" stroke="#1c1c1c" stroke-width="1" stroke-linecap="butt"/>
<line x1="245.6" y1="325.6" x2="265.7" y2="325.6" stroke="#222" stroke-width="0.95" stroke-linecap="butt"/>
<text x="255.65" y="325.2" font-size="5.8" text-anchor="middle" font-weight="normal" fill="#2b2b2b" class="t">**</text>
<text x="256.2" y="316.6" font-size="8.3" text-anchor="middle" font-weight="normal" fill="#2b2b2b" textLength="24.3" lengthAdjust="spacingAndGlyphs">Spleen</text>
<text x="0" y="0" font-size="7.2" text-anchor="middle" font-weight="normal" fill="#2b2b2b" transform="translate(202 359) rotate(-90)" textLength="55" lengthAdjust="spacingAndGlyphs" class="s">CD19+/CD5+ cells/uL</text>
<text x="0" y="0" font-size="6.6" text-anchor="end" font-weight="normal" fill="#2b2b2b" transform="translate(248.85 404.6) rotate(-45)" class="t"></text>
<text x="0" y="0" font-size="6.6" text-anchor="end" font-weight="normal" fill="#2b2b2b" transform="translate(269.05 404.6) rotate(-45)" class="t"></text>
<rect x="328.7" y="349.81" width="12.6" height="46.29" fill="#85a6ca"/>
<rect x="348.8" y="392.5" width="12.6" height="3.6" fill="#e88c9d"/>
<circle cx="337" cy="337.68" r="1.25" fill="#1d4273"/>
<circle cx="331.8" cy="339.48" r="1.25" fill="#1d4273"/>
<circle cx="335" cy="343.97" r="1.25" fill="#1d4273"/>
<circle cx="335" cy="375.43" r="1.25" fill="#1d4273"/>
<line x1="335" y1="331.39" x2="335" y2="367.34" stroke="#1f4f82" stroke-width="1" stroke-linecap="butt"/>
<line x1="330.7" y1="331.39" x2="339.3" y2="331.39" stroke="#1f4f82" stroke-width="1" stroke-linecap="butt"/>
<line x1="330.7" y1="367.34" x2="339.3" y2="367.34" stroke="#1f4f82" stroke-width="1" stroke-linecap="butt"/>
<circle cx="355.1" cy="388.01" r="1.25" fill="#b5122f"/>
<circle cx="352.6" cy="389.81" r="1.25" fill="#b5122f"/>
<circle cx="357.6" cy="390.71" r="1.25" fill="#b5122f"/>
<circle cx="355.1" cy="392.5" r="1.25" fill="#b5122f"/>
<circle cx="352.1" cy="393.85" r="1.25" fill="#b5122f"/>
<circle cx="358.1" cy="394.3" r="1.25" fill="#b5122f"/>
<line x1="355.1" y1="389.81" x2="355.1" y2="394.75" stroke="#cc1b3d" stroke-width="1" stroke-linecap="butt"/>
<line x1="350.8" y1="389.81" x2="359.4" y2="389.81" stroke="#cc1b3d" stroke-width="1" stroke-linecap="butt"/>
<line x1="350.8" y1="394.75" x2="359.4" y2="394.75" stroke="#cc1b3d" stroke-width="1" stroke-linecap="butt"/>
<line x1="320.8" y1="321.5" x2="320.8" y2="396.7" stroke="#1c1c1c" stroke-width="1.3" stroke-linecap="butt"/>
<line x1="318.3" y1="396.1" x2="368.8" y2="396.1" stroke="#1c1c1c" stroke-width="1.3" stroke-linecap="butt"/>
<line x1="317.8" y1="396.1" x2="320.8" y2="396.1" stroke="#1c1c1c" stroke-width="1" stroke-linecap="butt"/>
<text x="316.2" y="398.4" font-size="6.5" text-anchor="end" font-weight="normal" fill="#3a3a3a" class="t">0</text>
<line x1="317.8" y1="378.12" x2="320.8" y2="378.12" stroke="#1c1c1c" stroke-width="1" stroke-linecap="butt"/>
<text x="316.2" y="380.43" font-size="6.5" text-anchor="end" font-weight="normal" fill="#3a3a3a" class="t">2000</text>
<line x1="317.8" y1="360.15" x2="320.8" y2="360.15" stroke="#1c1c1c" stroke-width="1" stroke-linecap="butt"/>
<text x="316.2" y="362.45" font-size="6.5" text-anchor="end" font-weight="normal" fill="#3a3a3a" class="t">4000</text>
<line x1="317.8" y1="342.18" x2="320.8" y2="342.18" stroke="#1c1c1c" stroke-width="1" stroke-linecap="butt"/>
<text x="316.2" y="344.48" font-size="6.5" text-anchor="end" font-weight="normal" fill="#3a3a3a" class="t">6000</text>
<line x1="317.8" y1="324.2" x2="320.8" y2="324.2" stroke="#1c1c1c" stroke-width="1" stroke-linecap="butt"/>
<text x="316.2" y="326.5" font-size="6.5" text-anchor="end" font-weight="normal" fill="#3a3a3a" class="t">8000</text>
<line x1="335" y1="396.1" x2="335" y2="399.1" stroke="#1c1c1c" stroke-width="1" stroke-linecap="butt"/>
<line x1="355.1" y1="396.1" x2="355.1" y2="399.1" stroke="#1c1c1c" stroke-width="1" stroke-linecap="butt"/>
<line x1="335" y1="327.2" x2="355.1" y2="327.2" stroke="#222" stroke-width="0.95" stroke-linecap="butt"/>
<text x="345.05" y="326.8" font-size="5.8" text-anchor="middle" font-weight="normal" fill="#2b2b2b" class="t">**</text>
<text x="345.6" y="317" font-size="8.3" text-anchor="middle" font-weight="normal" fill="#2b2b2b" textLength="46.6" lengthAdjust="spacingAndGlyphs">Bone marrow</text>
<text x="0" y="0" font-size="7.2" text-anchor="middle" font-weight="normal" fill="#2b2b2b" transform="translate(296.3 358.5) rotate(-90)" textLength="55" lengthAdjust="spacingAndGlyphs" class="s">%CD19+/CD5+ cells</text>
<text x="0" y="0" font-size="6.6" text-anchor="end" font-weight="normal" fill="#2b2b2b" transform="translate(338.3 404.4) rotate(-45)" class="t"></text>
<text x="0" y="0" font-size="6.6" text-anchor="end" font-weight="normal" fill="#2b2b2b" transform="translate(358.4 404.4) rotate(-45)" class="t"></text>
<circle cx="254.6" cy="408.6" r="1" fill="#1d4273"/>
<text x="258.7" y="410.7" font-size="6.3" text-anchor="start" font-weight="normal" fill="#2b2b2b" textLength="23.3" lengthAdjust="spacingAndGlyphs" class="t">Eu-TCL1</text>
<circle cx="289" cy="408.6" r="1" fill="#b5122f"/>
<text x="293" y="410.7" font-size="6.3" text-anchor="start" font-weight="normal" fill="#2b2b2b" textLength="48" lengthAdjust="spacingAndGlyphs" class="t">Eu-TCL1/S100A9</text>
<text x="341.5" y="407" font-size="3.6" text-anchor="start" font-weight="normal" fill="#2b2b2b">-/-</text>
<rect x="385" y="298.6" width="2.2" height="8.8" fill="#111"/>
<line x1="412.5" y1="321.4" x2="412.5" y2="396.9" stroke="#1c1c1c" stroke-width="1.4" stroke-linecap="butt"/>
<line x1="411.9" y1="396.3" x2="513.3" y2="396.3" stroke="#1c1c1c" stroke-width="1.4" stroke-linecap="butt"/>
<line x1="411" y1="396.3" x2="412.5" y2="396.3" stroke="#1c1c1c" stroke-width="0.8" stroke-linecap="butt"/>
<line x1="411" y1="393.58" x2="412.5" y2="393.58" stroke="#1c1c1c" stroke-width="0.8" stroke-linecap="butt"/>
<line x1="411" y1="390.86" x2="412.5" y2="390.86" stroke="#1c1c1c" stroke-width="0.8" stroke-linecap="butt"/>
<line x1="411" y1="388.14" x2="412.5" y2="388.14" stroke="#1c1c1c" stroke-width="0.8" stroke-linecap="butt"/>
<line x1="411" y1="385.42" x2="412.5" y2="385.42" stroke="#1c1c1c" stroke-width="0.8" stroke-linecap="butt"/>
<line x1="411" y1="382.7" x2="412.5" y2="382.7" stroke="#1c1c1c" stroke-width="0.8" stroke-linecap="butt"/>
<line x1="411" y1="379.98" x2="412.5" y2="379.98" stroke="#1c1c1c" stroke-width="0.8" stroke-linecap="butt"/>
<line x1="411" y1="377.26" x2="412.5" y2="377.26" stroke="#1c1c1c" stroke-width="0.8" stroke-linecap="butt"/>
<line x1="411" y1="374.54" x2="412.5" y2="374.54" stroke="#1c1c1c" stroke-width="0.8" stroke-linecap="butt"/>
<line x1="411" y1="371.82" x2="412.5" y2="371.82" stroke="#1c1c1c" stroke-width="0.8" stroke-linecap="butt"/>
<line x1="411" y1="369.1" x2="412.5" y2="369.1" stroke="#1c1c1c" stroke-width="0.8" stroke-linecap="butt"/>
<line x1="411" y1="366.38" x2="412.5" y2="366.38" stroke="#1c1c1c" stroke-width="0.8" stroke-linecap="butt"/>
<line x1="411" y1="363.66" x2="412.5" y2="363.66" stroke="#1c1c1c" stroke-width="0.8" stroke-linecap="butt"/>
<line x1="411" y1="360.94" x2="412.5" y2="360.94" stroke="#1c1c1c" stroke-width="0.8" stroke-linecap="butt"/>
<line x1="411" y1="358.22" x2="412.5" y2="358.22" stroke="#1c1c1c" stroke-width="0.8" stroke-linecap="butt"/>
<line x1="411" y1="355.5" x2="412.5" y2="355.5" stroke="#1c1c1c" stroke-width="0.8" stroke-linecap="butt"/>
<line x1="411" y1="352.78" x2="412.5" y2="352.78" stroke="#1c1c1c" stroke-width="0.8" stroke-linecap="butt"/>
<line x1="411" y1="350.06" x2="412.5" y2="350.06" stroke="#1c1c1c" stroke-width="0.8" stroke-linecap="butt"/>
<line x1="411" y1="347.34" x2="412.5" y2="347.34" stroke="#1c1c1c" stroke-width="0.8" stroke-linecap="butt"/>
<line x1="411" y1="344.62" x2="412.5" y2="344.62" stroke="#1c1c1c" stroke-width="0.8" stroke-linecap="butt"/>
<line x1="411" y1="341.9" x2="412.5" y2="341.9" stroke="#1c1c1c" stroke-width="0.8" stroke-linecap="butt"/>
<line x1="411" y1="339.18" x2="412.5" y2="339.18" stroke="#1c1c1c" stroke-width="0.8" stroke-linecap="butt"/>
<line x1="411" y1="336.46" x2="412.5" y2="336.46" stroke="#1c1c1c" stroke-width="0.8" stroke-linecap="butt"/>
<line x1="411" y1="333.74" x2="412.5" y2="333.74" stroke="#1c1c1c" stroke-width="0.8" stroke-linecap="butt"/>
<line x1="411" y1="331.02" x2="412.5" y2="331.02" stroke="#1c1c1c" stroke-width="0.8" stroke-linecap="butt"/>
<line x1="411" y1="328.3" x2="412.5" y2="328.3" stroke="#1c1c1c" stroke-width="0.8" stroke-linecap="butt"/>
<line x1="411" y1="325.58" x2="412.5" y2="325.58" stroke="#1c1c1c" stroke-width="0.8" stroke-linecap="butt"/>
<line x1="409.4" y1="396.3" x2="412.5" y2="396.3" stroke="#1c1c1c" stroke-width="1" stroke-linecap="butt"/>
<text x="407" y="398.5" font-size="6.3" text-anchor="end" font-weight="normal" fill="#2b2b2b" class="t">0</text>
<line x1="409.4" y1="363.7" x2="412.5" y2="363.7" stroke="#1c1c1c" stroke-width="1" stroke-linecap="butt"/>
<text x="407" y="365.9" font-size="6.3" text-anchor="end" font-weight="normal" fill="#2b2b2b" class="t">50</text>
<line x1="409.4" y1="331" x2="412.5" y2="331" stroke="#1c1c1c" stroke-width="1" stroke-linecap="butt"/>
<text x="407" y="333.2" font-size="6.3" text-anchor="end" font-weight="normal" fill="#2b2b2b" class="t">100</text>
<line x1="422.2" y1="396.3" x2="422.2" y2="399.2" stroke="#1c1c1c" stroke-width="1" stroke-linecap="butt"/>
<text x="422.2" y="407.7" font-size="6.3" text-anchor="middle" font-weight="normal" fill="#2b2b2b" class="t">6</text>
<line x1="442.54" y1="396.3" x2="442.54" y2="399.2" stroke="#1c1c1c" stroke-width="1" stroke-linecap="butt"/>
<text x="442.54" y="407.7" font-size="6.3" text-anchor="middle" font-weight="normal" fill="#2b2b2b" class="t">8</text>
<line x1="462.88" y1="396.3" x2="462.88" y2="399.2" stroke="#1c1c1c" stroke-width="1" stroke-linecap="butt"/>
<text x="462.88" y="407.7" font-size="6.3" text-anchor="middle" font-weight="normal" fill="#2b2b2b" class="t">10</text>
<line x1="483.22" y1="396.3" x2="483.22" y2="399.2" stroke="#1c1c1c" stroke-width="1" stroke-linecap="butt"/>
<text x="483.22" y="407.7" font-size="6.3" text-anchor="middle" font-weight="normal" fill="#2b2b2b" class="t">12</text>
<line x1="503.56" y1="396.3" x2="503.56" y2="399.2" stroke="#1c1c1c" stroke-width="1" stroke-linecap="butt"/>
<text x="503.56" y="407.7" font-size="6.3" text-anchor="middle" font-weight="normal" fill="#2b2b2b" class="t">14</text>
<line x1="413.5" y1="363.5" x2="503.6" y2="363.5" stroke="#7a7a7a" stroke-width="1" stroke-linecap="butt" stroke-dasharray="1.7,1.8"/>
<path d="M444.5 331.5 H448.5 V344.5 H503.5 V396.3" fill="none" stroke="#d4506a" stroke-width="1"/>
<path d="M412.5 331.5 H444.5 V357.5 H448.5 V396.3" fill="none" stroke="#4e7cab" stroke-width="1"/>
<text x="420.2" y="387.7" font-size="6.3" text-anchor="start" font-weight="normal" fill="#2b2b2b" font-style="italic" class="t">P</text>
<text x="424.6" y="387.7" font-size="6.3" text-anchor="start" font-weight="normal" fill="#2b2b2b" textLength="12.4" lengthAdjust="spacingAndGlyphs" font-style="italic" class="t">: .01</text>
<text x="0" y="0" font-size="7.2" text-anchor="middle" font-weight="normal" fill="#2b2b2b" transform="translate(391 358.5) rotate(-90)" textLength="53" lengthAdjust="spacingAndGlyphs" class="s">Probability of survival</text>
<text x="462.8" y="418.8" font-size="8" text-anchor="middle" font-weight="normal" fill="#222" textLength="50.5" lengthAdjust="spacingAndGlyphs" class="b">Weeks post injection</text>
<line x1="412.5" y1="426.3" x2="417" y2="426.3" stroke="#4e7cab" stroke-width="0.9" stroke-linecap="butt"/>
<line x1="414.7" y1="425.4" x2="414.7" y2="427.2" stroke="#4e7cab" stroke-width="0.7" stroke-linecap="butt"/>
<text x="421.3" y="428.4" font-size="6.3" text-anchor="start" font-weight="normal" fill="#2b2b2b" textLength="23.2" lengthAdjust="spacingAndGlyphs" class="t">Eu-TCL1</text>
<line x1="451.3" y1="426.3" x2="456.3" y2="426.3" stroke="#d4506a" stroke-width="0.9" stroke-linecap="butt"/>
<line x1="453.8" y1="425.4" x2="453.8" y2="427.2" stroke="#d4506a" stroke-width="0.7" stroke-linecap="butt"/>
<text x="460" y="428.4" font-size="6.3" text-anchor="start" font-weight="normal" fill="#2b2b2b" textLength="48" lengthAdjust="spacingAndGlyphs" class="t">Eu-TCL1/S100A9</text>
<text x="508.5" y="424.8" font-size="3.6" text-anchor="start" font-weight="normal" fill="#2b2b2b">-/-</text>
<text x="6" y="435.4" font-size="9.6" font-weight="bold" fill="#111">J</text>
<circle cx="120.19" cy="557.81" r="0.8" fill="#c4c4c4"/>
<circle cx="125.78" cy="593.74" r="0.8" fill="#c4c4c4"/>
<circle cx="119.83" cy="615.76" r="0.8" fill="#c4c4c4"/>
<circle cx="124.23" cy="590.12" r="0.8" fill="#c4c4c4"/>
<circle cx="120.22" cy="622.86" r="0.8" fill="#c4c4c4"/>
<circle cx="119.95" cy="606.46" r="0.8" fill="#c4c4c4"/>
<circle cx="129.81" cy="575.89" r="0.8" fill="#c4c4c4"/>
<circle cx="127.88" cy="626.95" r="0.8" fill="#c4c4c4"/>
<circle cx="133.42" cy="578.99" r="0.8" fill="#c4c4c4"/>
<circle cx="123.45" cy="582" r="0.8" fill="#c4c4c4"/>
<circle cx="124.79" cy="588.83" r="0.8" fill="#c4c4c4"/>
<circle cx="124.97" cy="625.57" r="0.8" fill="#c4c4c4"/>
<circle cx="125.41" cy="627.88" r="0.8" fill="#c4c4c4"/>
<circle cx="126.87" cy="593.88" r="0.8" fill="#c4c4c4"/>
<circle cx="118.22" cy="589.55" r="0.8" fill="#c4c4c4"/>
<circle cx="126.91" cy="580.06" r="0.8" fill="#c4c4c4"/>
<circle cx="119.32" cy="594.4" r="0.8" fill="#c4c4c4"/>
<circle cx="124.47" cy="608.44" r="0.8" fill="#c4c4c4"/>
<circle cx="135.96" cy="564.39" r="0.8" fill="#c4c4c4"/>
<circle cx="124.29" cy="574.77" r="0.8" fill="#c4c4c4"/>
<circle cx="123.46" cy="607.58" r="0.8" fill="#c4c4c4"/>
<circle cx="126.77" cy="624.73" r="0.8" fill="#c4c4c4"/>
<circle cx="124.82" cy="563.89" r="0.8" fill="#c4c4c4"/>
<circle cx="120.95" cy="599.95" r="0.8" fill="#c4c4c4"/>
<circle cx="130.98" cy="630.19" r="0.8" fill="#c4c4c4"/>
<circle cx="122.7" cy="613.8" r="0.8" fill="#c4c4c4"/>
<circle cx="127.78" cy="553.41" r="0.8" fill="#c4c4c4"/>
<circle cx="122.36" cy="599.09" r="0.8" fill="#c4c4c4"/>
<circle cx="128.86" cy="569.23" r="0.8" fill="#c4c4c4"/>
<circle cx="126.64" cy="609.09" r="0.8" fill="#c4c4c4"/>
<circle cx="127.14" cy="554.68" r="0.8" fill="#c4c4c4"/>
<circle cx="126.09" cy="570.83" r="0.8" fill="#c4c4c4"/>
<circle cx="126.39" cy="622.32" r="0.8" fill="#c4c4c4"/>
<circle cx="126.23" cy="625.54" r="0.8" fill="#c4c4c4"/>
<circle cx="125.09" cy="586.41" r="0.8" fill="#c4c4c4"/>
<circle cx="122.37" cy="595.17" r="0.8" fill="#c4c4c4"/>
<circle cx="126.52" cy="619.97" r="0.8" fill="#c4c4c4"/>
<circle cx="129.73" cy="579.79" r="0.8" fill="#c4c4c4"/>
<circle cx="127.17" cy="613.55" r="0.8" fill="#c4c4c4"/>
<circle cx="126.89" cy="609.09" r="0.8" fill="#c4c4c4"/>
<circle cx="130.64" cy="606.4" r="0.8" fill="#c4c4c4"/>
<circle cx="123.32" cy="560.89" r="0.8" fill="#c4c4c4"/>
<circle cx="125.31" cy="563.28" r="0.8" fill="#c4c4c4"/>
<circle cx="127.84" cy="579.94" r="0.8" fill="#c4c4c4"/>
<circle cx="132.94" cy="613.52" r="0.8" fill="#c4c4c4"/>
<circle cx="130.65" cy="610" r="0.8" fill="#c4c4c4"/>
<circle cx="124.9" cy="607.01" r="0.8" fill="#c4c4c4"/>
<circle cx="121.38" cy="624.48" r="0.8" fill="#c4c4c4"/>
<circle cx="128.35" cy="611.19" r="0.8" fill="#c4c4c4"/>
<circle cx="126.93" cy="583.11" r="0.8" fill="#c4c4c4"/>
<circle cx="121.81" cy="555.07" r="0.8" fill="#c4c4c4"/>
<circle cx="127.22" cy="592.33" r="0.8" fill="#c4c4c4"/>
<circle cx="118.22" cy="615.91" r="0.8" fill="#c4c4c4"/>
<circle cx="121.3" cy="618.16" r="0.8" fill="#c4c4c4"/>
<circle cx="129.86" cy="610.68" r="0.8" fill="#c4c4c4"/>
<circle cx="120.96" cy="615.36" r="0.8" fill="#c4c4c4"/>
<circle cx="123.91" cy="614.83" r="0.8" fill="#c4c4c4"/>
<circle cx="116.2" cy="555.78" r="0.8" fill="#c4c4c4"/>
<circle cx="127.96" cy="597.21" r="0.8" fill="#c4c4c4"/>
<circle cx="121.26" cy="622.1" r="0.8" fill="#c4c4c4"/>
<circle cx="133.13" cy="611.55" r="0.8" fill="#c4c4c4"/>
<circle cx="126.61" cy="575.02" r="0.8" fill="#c4c4c4"/>
<circle cx="124.18" cy="583.49" r="0.8" fill="#c4c4c4"/>
<circle cx="130.95" cy="607.24" r="0.8" fill="#c4c4c4"/>
<circle cx="126.97" cy="624.85" r="0.8" fill="#c4c4c4"/>
<circle cx="129.42" cy="612.34" r="0.8" fill="#c4c4c4"/>
<circle cx="118.11" cy="582.09" r="0.8" fill="#c4c4c4"/>
<circle cx="121.98" cy="608.28" r="0.8" fill="#c4c4c4"/>
<circle cx="126.5" cy="628.94" r="0.8" fill="#c4c4c4"/>
<circle cx="123.29" cy="609.14" r="0.8" fill="#c4c4c4"/>
<circle cx="123.3" cy="616.42" r="0.8" fill="#c4c4c4"/>
<circle cx="124.87" cy="601.34" r="0.8" fill="#c4c4c4"/>
<circle cx="122.8" cy="601.86" r="0.8" fill="#c4c4c4"/>
<circle cx="123.65" cy="560.41" r="0.8" fill="#c4c4c4"/>
<circle cx="129.52" cy="576.07" r="0.8" fill="#c4c4c4"/>
<circle cx="123.84" cy="584.43" r="0.8" fill="#c4c4c4"/>
<circle cx="125.05" cy="628.83" r="0.8" fill="#c4c4c4"/>
<circle cx="125.18" cy="558.9" r="0.8" fill="#c4c4c4"/>
<circle cx="121.75" cy="628.57" r="0.8" fill="#c4c4c4"/>
<circle cx="115.94" cy="580.38" r="0.8" fill="#c4c4c4"/>
<circle cx="118.85" cy="605.24" r="0.8" fill="#c4c4c4"/>
<circle cx="125.09" cy="551.92" r="0.8" fill="#c4c4c4"/>
<circle cx="128.36" cy="572.48" r="0.8" fill="#c4c4c4"/>
<circle cx="126.46" cy="559.69" r="0.8" fill="#c4c4c4"/>
<circle cx="124.02" cy="568.07" r="0.8" fill="#c4c4c4"/>
<circle cx="119.04" cy="558.53" r="0.8" fill="#c4c4c4"/>
<circle cx="121.3" cy="559.64" r="0.8" fill="#c4c4c4"/>
<circle cx="128.71" cy="561.97" r="0.8" fill="#c4c4c4"/>
<circle cx="119.11" cy="562.57" r="0.8" fill="#c4c4c4"/>
<circle cx="127.52" cy="585.35" r="0.8" fill="#c4c4c4"/>
<circle cx="122.04" cy="584.57" r="0.8" fill="#c4c4c4"/>
<circle cx="122.04" cy="582.52" r="0.8" fill="#c4c4c4"/>
<circle cx="128.82" cy="552.39" r="0.8" fill="#c4c4c4"/>
<circle cx="126.86" cy="561.29" r="0.8" fill="#c4c4c4"/>
<circle cx="123.99" cy="572.63" r="0.8" fill="#c4c4c4"/>
<circle cx="121.04" cy="584.71" r="0.8" fill="#c4c4c4"/>
<circle cx="118.27" cy="623.67" r="0.8" fill="#c4c4c4"/>
<circle cx="126.89" cy="571.44" r="0.8" fill="#c4c4c4"/>
<circle cx="129.1" cy="592.54" r="0.8" fill="#c4c4c4"/>
<circle cx="125.34" cy="612.19" r="0.8" fill="#c4c4c4"/>
<circle cx="123.16" cy="582.08" r="0.8" fill="#c4c4c4"/>
<circle cx="120.59" cy="558.1" r="0.8" fill="#c4c4c4"/>
<circle cx="124.44" cy="606.64" r="0.8" fill="#c4c4c4"/>
<circle cx="124.99" cy="577.09" r="0.8" fill="#c4c4c4"/>
<circle cx="125.08" cy="559.26" r="0.8" fill="#c4c4c4"/>
<circle cx="126.49" cy="578.51" r="0.8" fill="#c4c4c4"/>
<circle cx="117.6" cy="604.61" r="0.8" fill="#c4c4c4"/>
<circle cx="127.08" cy="578.05" r="0.8" fill="#c4c4c4"/>
<circle cx="125.64" cy="567.07" r="0.8" fill="#c4c4c4"/>
<circle cx="127.97" cy="558.59" r="0.8" fill="#c4c4c4"/>
<circle cx="126.97" cy="584.54" r="0.8" fill="#c4c4c4"/>
<circle cx="122.11" cy="605.43" r="0.8" fill="#c4c4c4"/>
<circle cx="127.14" cy="564.63" r="0.8" fill="#c4c4c4"/>
<circle cx="127.54" cy="563.72" r="0.8" fill="#c4c4c4"/>
<circle cx="122.4" cy="608.54" r="0.8" fill="#c4c4c4"/>
<circle cx="116.18" cy="616.98" r="0.8" fill="#c4c4c4"/>
<circle cx="121.8" cy="613.46" r="0.8" fill="#c4c4c4"/>
<circle cx="125.31" cy="597.79" r="0.8" fill="#c4c4c4"/>
<circle cx="121.6" cy="605.52" r="0.8" fill="#c4c4c4"/>
<circle cx="121.57" cy="564.48" r="0.8" fill="#c4c4c4"/>
<circle cx="143.58" cy="617.3" r="0.8" fill="#c4c4c4"/>
<circle cx="140.1" cy="620.03" r="0.8" fill="#c4c4c4"/>
<circle cx="141.03" cy="577.23" r="0.8" fill="#c4c4c4"/>
<circle cx="139.85" cy="585.96" r="0.8" fill="#c4c4c4"/>
<circle cx="138.61" cy="620.81" r="0.8" fill="#c4c4c4"/>
<circle cx="145.19" cy="613.43" r="0.8" fill="#c4c4c4"/>
<circle cx="139.83" cy="569.58" r="0.8" fill="#c4c4c4"/>
<circle cx="140.63" cy="607.02" r="0.8" fill="#c4c4c4"/>
<circle cx="141.01" cy="582.26" r="0.8" fill="#c4c4c4"/>
<circle cx="141.14" cy="593.8" r="0.8" fill="#c4c4c4"/>
<circle cx="137.58" cy="570.99" r="0.8" fill="#c4c4c4"/>
<circle cx="137.4" cy="561.45" r="0.8" fill="#c4c4c4"/>
<circle cx="139.68" cy="591.99" r="0.8" fill="#c4c4c4"/>
<circle cx="138.7" cy="610.73" r="0.8" fill="#c4c4c4"/>
<circle cx="143.69" cy="576.88" r="0.8" fill="#c4c4c4"/>
<circle cx="140.67" cy="610.7" r="0.8" fill="#c4c4c4"/>
<circle cx="140.08" cy="577.95" r="0.8" fill="#c4c4c4"/>
<circle cx="143.07" cy="589.13" r="0.8" fill="#c4c4c4"/>
<circle cx="136.82" cy="597.15" r="0.8" fill="#c4c4c4"/>
<circle cx="137.27" cy="571.97" r="0.8" fill="#c4c4c4"/>
<circle cx="141.47" cy="563.08" r="0.8" fill="#c4c4c4"/>
<circle cx="139.77" cy="576.37" r="0.8" fill="#c4c4c4"/>
<circle cx="142.61" cy="582.49" r="0.8" fill="#c4c4c4"/>
<circle cx="142.75" cy="564.51" r="0.8" fill="#c4c4c4"/>
<circle cx="137.79" cy="566.45" r="0.8" fill="#c4c4c4"/>
<circle cx="143.05" cy="571.66" r="0.8" fill="#c4c4c4"/>
<circle cx="143.46" cy="580.86" r="0.8" fill="#c4c4c4"/>
<circle cx="139.35" cy="609.07" r="0.8" fill="#c4c4c4"/>
<circle cx="139.52" cy="581.47" r="0.8" fill="#c4c4c4"/>
<circle cx="135.23" cy="576.66" r="0.8" fill="#c4c4c4"/>
<circle cx="141.86" cy="560.05" r="0.8" fill="#c4c4c4"/>
<circle cx="146.45" cy="560.25" r="0.8" fill="#c4c4c4"/>
<circle cx="135.51" cy="601.77" r="0.8" fill="#c4c4c4"/>
<circle cx="139.28" cy="564.51" r="0.8" fill="#c4c4c4"/>
<circle cx="142.09" cy="616.79" r="0.8" fill="#c4c4c4"/>
<circle cx="138.36" cy="594.16" r="0.8" fill="#c4c4c4"/>
<circle cx="135.79" cy="591.21" r="0.8" fill="#c4c4c4"/>
<circle cx="138.92" cy="620.22" r="0.8" fill="#c4c4c4"/>
<circle cx="140.83" cy="571.47" r="0.8" fill="#c4c4c4"/>
<circle cx="139.48" cy="611.09" r="0.8" fill="#c4c4c4"/>
<circle cx="137.88" cy="613.14" r="0.8" fill="#c4c4c4"/>
<circle cx="144.8" cy="612.62" r="0.8" fill="#c4c4c4"/>
<circle cx="135.87" cy="568.93" r="0.8" fill="#c4c4c4"/>
<circle cx="139.97" cy="578.45" r="0.8" fill="#c4c4c4"/>
<circle cx="143.6" cy="562.03" r="0.8" fill="#c4c4c4"/>
<circle cx="139.33" cy="616.58" r="0.8" fill="#c4c4c4"/>
<circle cx="141.08" cy="603.68" r="0.8" fill="#c4c4c4"/>
<circle cx="143.9" cy="575.96" r="0.8" fill="#c4c4c4"/>
<circle cx="138.21" cy="568.7" r="0.8" fill="#c4c4c4"/>
<circle cx="137.78" cy="586.63" r="0.8" fill="#c4c4c4"/>
<circle cx="139.39" cy="568.6" r="0.8" fill="#c4c4c4"/>
<circle cx="143.05" cy="565.11" r="0.8" fill="#c4c4c4"/>
<circle cx="141.9" cy="560.81" r="0.8" fill="#c4c4c4"/>
<circle cx="145.86" cy="588.89" r="0.8" fill="#c4c4c4"/>
<circle cx="138.73" cy="588.15" r="0.8" fill="#c4c4c4"/>
<circle cx="139.6" cy="590.22" r="0.8" fill="#c4c4c4"/>
<circle cx="139.91" cy="560.75" r="0.8" fill="#c4c4c4"/>
<circle cx="140.03" cy="589.41" r="0.8" fill="#c4c4c4"/>
<circle cx="136.27" cy="586.45" r="0.8" fill="#c4c4c4"/>
<circle cx="143.47" cy="590.99" r="0.8" fill="#c4c4c4"/>
<circle cx="129.93" cy="615.6" r="0.8" fill="#c4c4c4"/>
<circle cx="129.49" cy="618.99" r="0.8" fill="#c4c4c4"/>
<circle cx="134.68" cy="622.92" r="0.8" fill="#c4c4c4"/>
<circle cx="128.96" cy="617.38" r="0.8" fill="#c4c4c4"/>
<circle cx="131.73" cy="608.07" r="0.8" fill="#c4c4c4"/>
<circle cx="131.76" cy="605.76" r="0.8" fill="#c4c4c4"/>
<circle cx="128.43" cy="625.03" r="0.8" fill="#c4c4c4"/>
<circle cx="130.46" cy="613.44" r="0.8" fill="#c4c4c4"/>
<circle cx="131.16" cy="609.06" r="0.8" fill="#c4c4c4"/>
<circle cx="129.71" cy="629.62" r="0.8" fill="#c4c4c4"/>
<circle cx="130.71" cy="611.57" r="0.8" fill="#c4c4c4"/>
<circle cx="131.58" cy="621.48" r="0.8" fill="#c4c4c4"/>
<circle cx="128.45" cy="627.39" r="0.8" fill="#c4c4c4"/>
<circle cx="132.45" cy="610.37" r="0.8" fill="#c4c4c4"/>
<circle cx="131.96" cy="623.43" r="0.8" fill="#c4c4c4"/>
<circle cx="131.91" cy="624.86" r="0.8" fill="#c4c4c4"/>
<circle cx="128.04" cy="620.02" r="0.8" fill="#c4c4c4"/>
<circle cx="129.78" cy="619" r="0.8" fill="#c4c4c4"/>
<circle cx="129.01" cy="624.68" r="0.8" fill="#c4c4c4"/>
<circle cx="129.98" cy="613.08" r="0.8" fill="#c4c4c4"/>
<circle cx="128.58" cy="607.1" r="0.8" fill="#c4c4c4"/>
<circle cx="128.28" cy="613.61" r="0.8" fill="#c4c4c4"/>
<circle cx="131.13" cy="610.1" r="0.8" fill="#c4c4c4"/>
<circle cx="129.03" cy="608.21" r="0.8" fill="#c4c4c4"/>
<circle cx="131.66" cy="621.68" r="0.8" fill="#c4c4c4"/>
<circle cx="129.17" cy="605.16" r="0.8" fill="#c4c4c4"/>
<circle cx="131.66" cy="606.12" r="0.8" fill="#c4c4c4"/>
<circle cx="137.39" cy="626.6" r="0.8" fill="#c4c4c4"/>
<circle cx="130.42" cy="623.18" r="0.8" fill="#c4c4c4"/>
<circle cx="133.49" cy="627.6" r="0.8" fill="#c4c4c4"/>
<circle cx="131.26" cy="608.77" r="0.8" fill="#c4c4c4"/>
<circle cx="128.33" cy="626.81" r="0.8" fill="#c4c4c4"/>
<circle cx="127.65" cy="629.75" r="0.8" fill="#c4c4c4"/>
<circle cx="131.99" cy="624.78" r="0.8" fill="#c4c4c4"/>
<circle cx="128.34" cy="603.92" r="0.8" fill="#c4c4c4"/>
<circle cx="126.09" cy="627.1" r="0.8" fill="#c4c4c4"/>
<circle cx="126.75" cy="616.57" r="0.8" fill="#c4c4c4"/>
<circle cx="130.08" cy="611.6" r="0.8" fill="#c4c4c4"/>
<circle cx="130.49" cy="627.35" r="0.8" fill="#c4c4c4"/>
<circle cx="130.93" cy="629.22" r="0.8" fill="#c4c4c4"/>
<circle cx="127.86" cy="614.78" r="0.8" fill="#c4c4c4"/>
<circle cx="129.41" cy="626.25" r="0.8" fill="#c4c4c4"/>
<circle cx="130.75" cy="607.4" r="0.8" fill="#c4c4c4"/>
<circle cx="131.47" cy="603.32" r="0.8" fill="#c4c4c4"/>
<circle cx="131.02" cy="628.55" r="0.8" fill="#c4c4c4"/>
<circle cx="129.79" cy="604.38" r="0.8" fill="#c4c4c4"/>
<circle cx="126.81" cy="621.35" r="0.8" fill="#c4c4c4"/>
<circle cx="131.02" cy="617.55" r="0.8" fill="#c4c4c4"/>
<circle cx="128.04" cy="613.91" r="0.8" fill="#c4c4c4"/>
<circle cx="129.99" cy="629.88" r="0.8" fill="#c4c4c4"/>
<circle cx="129" cy="625.31" r="0.8" fill="#c4c4c4"/>
<circle cx="126.43" cy="617.9" r="0.8" fill="#c4c4c4"/>
<circle cx="130.06" cy="624.93" r="0.8" fill="#c4c4c4"/>
<circle cx="128.11" cy="625.75" r="0.8" fill="#c4c4c4"/>
<circle cx="129.84" cy="605.96" r="0.8" fill="#c4c4c4"/>
<circle cx="178.86" cy="550.91" r="0.8" fill="#c4c4c4"/>
<circle cx="174.58" cy="570.58" r="0.8" fill="#c4c4c4"/>
<circle cx="161.35" cy="574.53" r="0.8" fill="#c4c4c4"/>
<circle cx="169.95" cy="613.58" r="0.8" fill="#c4c4c4"/>
<circle cx="179" cy="552.3" r="0.8" fill="#c4c4c4"/>
<circle cx="154.91" cy="581.61" r="0.8" fill="#c4c4c4"/>
<circle cx="177.81" cy="569.93" r="0.8" fill="#c4c4c4"/>
<circle cx="179.43" cy="589.68" r="0.8" fill="#c4c4c4"/>
<circle cx="182.3" cy="576.93" r="0.8" fill="#c4c4c4"/>
<circle cx="174.15" cy="554.68" r="0.8" fill="#c4c4c4"/>
<circle cx="161.41" cy="588.04" r="0.8" fill="#c4c4c4"/>
<circle cx="175.38" cy="568.88" r="0.8" fill="#c4c4c4"/>
<circle cx="164.19" cy="559.28" r="0.8" fill="#c4c4c4"/>
<circle cx="143.99" cy="570.05" r="0.8" fill="#c4c4c4"/>
<circle cx="171.03" cy="575.47" r="0.8" fill="#c4c4c4"/>
<circle cx="153.76" cy="581.41" r="0.8" fill="#c4c4c4"/>
<circle cx="158.41" cy="561.76" r="0.8" fill="#c4c4c4"/>
<circle cx="172.6" cy="575.34" r="0.8" fill="#c4c4c4"/>
<circle cx="160.7" cy="562.16" r="0.8" fill="#c4c4c4"/>
<circle cx="187.6" cy="572.14" r="0.8" fill="#c4c4c4"/>
<circle cx="177.1" cy="577.41" r="0.8" fill="#c4c4c4"/>
<circle cx="186.72" cy="580.87" r="0.8" fill="#c4c4c4"/>
<circle cx="176.09" cy="554.97" r="0.8" fill="#c4c4c4"/>
<circle cx="154.84" cy="556.4" r="0.8" fill="#c4c4c4"/>
<circle cx="152.14" cy="554.73" r="0.8" fill="#c4c4c4"/>
<circle cx="160.08" cy="564.3" r="0.8" fill="#c4c4c4"/>
<circle cx="183.44" cy="560.35" r="0.8" fill="#c4c4c4"/>
<circle cx="167.77" cy="608.35" r="0.8" fill="#c4c4c4"/>
<circle cx="168.56" cy="553.44" r="0.8" fill="#c4c4c4"/>
<circle cx="187.38" cy="576.67" r="0.8" fill="#c4c4c4"/>
<circle cx="146.88" cy="581.32" r="0.8" fill="#c4c4c4"/>
<circle cx="169.86" cy="550.99" r="0.8" fill="#c4c4c4"/>
<circle cx="184.52" cy="557.31" r="0.8" fill="#c4c4c4"/>
<circle cx="150.57" cy="563.86" r="0.8" fill="#c4c4c4"/>
<circle cx="165.37" cy="552.98" r="0.8" fill="#c4c4c4"/>
<circle cx="170.46" cy="600.36" r="0.8" fill="#c4c4c4"/>
<circle cx="162.07" cy="569.78" r="0.8" fill="#c4c4c4"/>
<circle cx="166.74" cy="567.84" r="0.8" fill="#c4c4c4"/>
<circle cx="156.12" cy="562.77" r="0.8" fill="#c4c4c4"/>
<circle cx="172.4" cy="567.37" r="0.8" fill="#c4c4c4"/>
<circle cx="175.11" cy="557.32" r="0.8" fill="#c4c4c4"/>
<circle cx="156.57" cy="567.12" r="0.8" fill="#c4c4c4"/>
<circle cx="145.41" cy="552.06" r="0.8" fill="#c4c4c4"/>
<circle cx="150.43" cy="551.25" r="0.8" fill="#c4c4c4"/>
<circle cx="183.08" cy="572.59" r="0.8" fill="#c4c4c4"/>
<circle cx="176.51" cy="613.62" r="0.8" fill="#c4c4c4"/>
<circle cx="185.15" cy="571.15" r="0.8" fill="#c4c4c4"/>
<circle cx="146.76" cy="570.03" r="0.8" fill="#c4c4c4"/>
<circle cx="164.58" cy="563.71" r="0.8" fill="#c4c4c4"/>
<circle cx="186.42" cy="551.67" r="0.8" fill="#c4c4c4"/>
<circle cx="184.84" cy="577.51" r="0.8" fill="#c4c4c4"/>
<circle cx="175.38" cy="610.81" r="0.8" fill="#c4c4c4"/>
<circle cx="179.52" cy="562.74" r="0.8" fill="#c4c4c4"/>
<circle cx="170.13" cy="573.81" r="0.8" fill="#c4c4c4"/>
<circle cx="163.61" cy="571.08" r="0.8" fill="#c4c4c4"/>
<circle cx="152.5" cy="576.28" r="0.8" fill="#c4c4c4"/>
<circle cx="149" cy="559.31" r="0.8" fill="#c4c4c4"/>
<circle cx="163.04" cy="562.64" r="0.8" fill="#c4c4c4"/>
<circle cx="155.08" cy="571.82" r="0.8" fill="#c4c4c4"/>
<circle cx="169.19" cy="584.18" r="0.8" fill="#c4c4c4"/>
<circle cx="102.51" cy="566.54" r="0.8" fill="#c4c4c4"/>
<circle cx="117.82" cy="580.12" r="0.8" fill="#c4c4c4"/>
<circle cx="92.92" cy="559.66" r="0.8" fill="#c4c4c4"/>
<circle cx="88.83" cy="576.55" r="0.8" fill="#c4c4c4"/>
<circle cx="105.6" cy="571.34" r="0.8" fill="#c4c4c4"/>
<circle cx="96.88" cy="554.49" r="0.8" fill="#c4c4c4"/>
<circle cx="103.63" cy="579.16" r="0.8" fill="#c4c4c4"/>
<circle cx="104.51" cy="571.87" r="0.8" fill="#c4c4c4"/>
<circle cx="91.33" cy="574.15" r="0.8" fill="#c4c4c4"/>
<circle cx="93.27" cy="592.43" r="0.8" fill="#c4c4c4"/>
<circle cx="113.92" cy="555.96" r="0.8" fill="#c4c4c4"/>
<circle cx="86.4" cy="564.59" r="0.8" fill="#c4c4c4"/>
<circle cx="99.05" cy="556.22" r="0.8" fill="#c4c4c4"/>
<circle cx="105.55" cy="569.55" r="0.8" fill="#c4c4c4"/>
<circle cx="87.48" cy="564.82" r="0.8" fill="#c4c4c4"/>
<circle cx="87.94" cy="561.32" r="0.8" fill="#c4c4c4"/>
<circle cx="105.8" cy="572.06" r="0.8" fill="#c4c4c4"/>
<circle cx="97.34" cy="563.53" r="0.8" fill="#c4c4c4"/>
<circle cx="96.37" cy="552.36" r="0.8" fill="#c4c4c4"/>
<circle cx="109.53" cy="554.54" r="0.8" fill="#c4c4c4"/>
<circle cx="89.03" cy="556.93" r="0.8" fill="#c4c4c4"/>
<circle cx="111.64" cy="573.73" r="0.8" fill="#c4c4c4"/>
<circle cx="92.09" cy="573.36" r="0.8" fill="#c4c4c4"/>
<circle cx="99.02" cy="552.36" r="0.8" fill="#c4c4c4"/>
<circle cx="97.2" cy="585.11" r="0.8" fill="#c4c4c4"/>
<circle cx="141.23" cy="508.03" r="0.8" fill="#c4c4c4"/>
<circle cx="131.3" cy="528.78" r="0.8" fill="#c4c4c4"/>
<circle cx="139.69" cy="502.19" r="0.8" fill="#c4c4c4"/>
<circle cx="127.25" cy="522.31" r="0.8" fill="#c4c4c4"/>
<circle cx="138.66" cy="543.21" r="0.8" fill="#c4c4c4"/>
<circle cx="120.8" cy="544.38" r="0.8" fill="#c4c4c4"/>
<circle cx="129.86" cy="513.68" r="0.8" fill="#c4c4c4"/>
<circle cx="125.66" cy="506.03" r="0.8" fill="#c4c4c4"/>
<circle cx="120.64" cy="500.33" r="0.8" fill="#c4c4c4"/>
<circle cx="133.86" cy="535.86" r="0.8" fill="#c4c4c4"/>
<circle cx="125.78" cy="544.18" r="0.8" fill="#c4c4c4"/>
<circle cx="134.57" cy="503.52" r="0.8" fill="#c4c4c4"/>
<circle cx="122.15" cy="531.46" r="0.8" fill="#c4c4c4"/>
<circle cx="135.3" cy="526.73" r="0.8" fill="#c4c4c4"/>
<circle cx="121.57" cy="526.18" r="0.8" fill="#c4c4c4"/>
<circle cx="131.76" cy="504.51" r="0.8" fill="#c4c4c4"/>
<circle cx="140.12" cy="491.29" r="0.8" fill="#c4c4c4"/>
<circle cx="128.8" cy="491.61" r="0.8" fill="#c4c4c4"/>
<circle cx="125.8" cy="498.59" r="0.8" fill="#c4c4c4"/>
<circle cx="127.94" cy="529.27" r="0.8" fill="#c4c4c4"/>
<circle cx="139.1" cy="490.27" r="0.8" fill="#c4c4c4"/>
<circle cx="127.08" cy="533.65" r="0.8" fill="#c4c4c4"/>
<circle cx="127.12" cy="526.24" r="0.8" fill="#c4c4c4"/>
<circle cx="127.66" cy="524.34" r="0.8" fill="#c4c4c4"/>
<circle cx="131.64" cy="537.02" r="0.8" fill="#c4c4c4"/>
<circle cx="131.11" cy="498.96" r="0.8" fill="#c4c4c4"/>
<circle cx="158.7" cy="442.6" r="0.8" fill="#c4c4c4"/>
<circle cx="140.5" cy="450.5" r="0.8" fill="#c4c4c4"/>
<circle cx="125" cy="470" r="0.8" fill="#c4c4c4"/>
<circle cx="128" cy="492" r="0.8" fill="#c4c4c4"/>
<circle cx="136" cy="505" r="0.8" fill="#c4c4c4"/>
<circle cx="122" cy="515" r="0.8" fill="#c4c4c4"/>
<circle cx="138" cy="520" r="0.8" fill="#c4c4c4"/>
<circle cx="99.2" cy="583" r="0.8" fill="#c4c4c4"/>
<circle cx="107.3" cy="587.7" r="0.8" fill="#c4c4c4"/>
<circle cx="182.3" cy="562.3" r="0.8" fill="#c4c4c4"/>
<circle cx="189.2" cy="564.6" r="0.8" fill="#c4c4c4"/>
<circle cx="178.8" cy="575" r="0.8" fill="#c4c4c4"/>
<circle cx="185.8" cy="573.8" r="0.8" fill="#c4c4c4"/>
<circle cx="168.5" cy="586.5" r="0.8" fill="#c4c4c4"/>
<circle cx="159.2" cy="601.5" r="0.8" fill="#c4c4c4"/>
<circle cx="161.5" cy="623.5" r="0.8" fill="#c4c4c4"/>
<circle cx="66.7" cy="550" r="0.8" fill="#c4c4c4"/>
<circle cx="173" cy="550" r="0.8" fill="#c4c4c4"/>
<circle cx="60" cy="566" r="0.8" fill="#c4c4c4"/>
<circle cx="70" cy="560" r="0.8" fill="#c4c4c4"/>
<circle cx="204" cy="560" r="0.8" fill="#c4c4c4"/>
<circle cx="75.9" cy="516.8" r="0.85" fill="#1f4f85"/>
<circle cx="78.8" cy="515.2" r="0.85" fill="#1f4f85"/>
<circle cx="84.5" cy="514.9" r="0.85" fill="#1f4f85"/>
<circle cx="95.3" cy="507.8" r="0.85" fill="#1f4f85"/>
<circle cx="103.3" cy="509.8" r="0.85" fill="#1f4f85"/>
<circle cx="103.1" cy="515.9" r="0.85" fill="#1f4f85"/>
<circle cx="106.4" cy="519.2" r="0.85" fill="#1f4f85"/>
<circle cx="107.8" cy="525.7" r="0.85" fill="#1f4f85"/>
<circle cx="104.4" cy="527.3" r="0.85" fill="#1f4f85"/>
<circle cx="115.2" cy="529.7" r="0.85" fill="#1f4f85"/>
<circle cx="114.5" cy="532.7" r="0.85" fill="#1f4f85"/>
<circle cx="115.9" cy="536.7" r="0.85" fill="#1f4f85"/>
<circle cx="116.5" cy="539.4" r="0.85" fill="#1f4f85"/>
<circle cx="111.1" cy="543.2" r="0.85" fill="#1f4f85"/>
<circle cx="111.8" cy="546.8" r="0.85" fill="#1f4f85"/>
<circle cx="115.9" cy="546.8" r="0.85" fill="#1f4f85"/>
<circle cx="107.1" cy="534.7" r="0.85" fill="#1f4f85"/>
<circle cx="109.8" cy="536" r="0.85" fill="#1f4f85"/>
<circle cx="103.1" cy="540.8" r="0.85" fill="#1f4f85"/>
<circle cx="106.4" cy="540.8" r="0.85" fill="#1f4f85"/>
<circle cx="99" cy="544.8" r="0.85" fill="#1f4f85"/>
<circle cx="81.3" cy="529.7" r="0.85" fill="#1f4f85"/>
<circle cx="84.9" cy="529.3" r="0.85" fill="#1f4f85"/>
<circle cx="88.3" cy="527.6" r="0.85" fill="#1f4f85"/>
<circle cx="73.2" cy="536.5" r="0.85" fill="#1f4f85"/>
<circle cx="66.1" cy="543.2" r="0.85" fill="#1f4f85"/>
<circle cx="66.7" cy="548.8" r="0.85" fill="#1f4f85"/>
<circle cx="87.6" cy="523.3" r="0.85" fill="#1f4f85"/>
<circle cx="84.2" cy="542.4" r="0.85" fill="#1f4f85"/>
<circle cx="91.6" cy="542.8" r="0.85" fill="#1f4f85"/>
<circle cx="115" cy="456.5" r="0.85" fill="#1f4f85"/>
<circle cx="89.2" cy="475.5" r="0.85" fill="#1f4f85"/>
<circle cx="75" cy="483" r="0.85" fill="#1f4f85"/>
<circle cx="40.3" cy="488.6" r="0.85" fill="#1f4f85"/>
<circle cx="53" cy="487.5" r="0.85" fill="#1f4f85"/>
<circle cx="83" cy="489" r="0.85" fill="#1f4f85"/>
<circle cx="69" cy="495" r="0.85" fill="#1f4f85"/>
<circle cx="76" cy="496" r="0.85" fill="#1f4f85"/>
<circle cx="86" cy="497" r="0.85" fill="#1f4f85"/>
<circle cx="101" cy="500" r="0.85" fill="#1f4f85"/>
<circle cx="97" cy="508" r="0.85" fill="#1f4f85"/>
<circle cx="109" cy="507" r="0.85" fill="#1f4f85"/>
<circle cx="108" cy="512" r="0.85" fill="#1f4f85"/>
<circle cx="85" cy="512.5" r="0.85" fill="#1f4f85"/>
<circle cx="58" cy="509" r="0.85" fill="#1f4f85"/>
<circle cx="42" cy="515" r="0.85" fill="#1f4f85"/>
<circle cx="104" cy="520.5" r="0.85" fill="#1f4f85"/>
<circle cx="73" cy="525" r="0.85" fill="#1f4f85"/>
<circle cx="95" cy="524" r="0.85" fill="#1f4f85"/>
<circle cx="32.7" cy="531" r="0.85" fill="#1f4f85"/>
<circle cx="89" cy="531" r="0.85" fill="#1f4f85"/>
<circle cx="76.5" cy="538" r="0.85" fill="#1f4f85"/>
<circle cx="94" cy="537.5" r="0.85" fill="#1f4f85"/>
<circle cx="77" cy="545.5" r="0.85" fill="#1f4f85"/>
<circle cx="89" cy="543.5" r="0.85" fill="#1f4f85"/>
<circle cx="94" cy="549" r="0.85" fill="#1f4f85"/>
<circle cx="117" cy="497" r="0.85" fill="#1f4f85"/>
<circle cx="118" cy="504" r="0.85" fill="#1f4f85"/>
<circle cx="169.25" cy="478" r="0.85" fill="#c8102e"/>
<circle cx="208.25" cy="476.75" r="0.85" fill="#c8102e"/>
<circle cx="145" cy="486.25" r="0.85" fill="#c8102e"/>
<circle cx="152" cy="487.5" r="0.85" fill="#c8102e"/>
<circle cx="171.5" cy="490" r="0.85" fill="#c8102e"/>
<circle cx="180" cy="492" r="0.85" fill="#c8102e"/>
<circle cx="162" cy="502.5" r="0.85" fill="#c8102e"/>
<circle cx="168.25" cy="505" r="0.85" fill="#c8102e"/>
<circle cx="207" cy="504.5" r="0.85" fill="#c8102e"/>
<circle cx="147.5" cy="512.5" r="0.85" fill="#c8102e"/>
<circle cx="153.75" cy="512.5" r="0.85" fill="#c8102e"/>
<circle cx="145" cy="516.25" r="0.85" fill="#c8102e"/>
<circle cx="150" cy="518.75" r="0.85" fill="#c8102e"/>
<circle cx="168.75" cy="518.75" r="0.85" fill="#c8102e"/>
<circle cx="172.5" cy="520" r="0.85" fill="#c8102e"/>
<circle cx="176.25" cy="518.75" r="0.85" fill="#c8102e"/>
<circle cx="168.75" cy="525" r="0.85" fill="#c8102e"/>
<circle cx="147" cy="527.5" r="0.85" fill="#c8102e"/>
<circle cx="151.25" cy="527" r="0.85" fill="#c8102e"/>
<circle cx="154.5" cy="526.25" r="0.85" fill="#c8102e"/>
<circle cx="158" cy="531.25" r="0.85" fill="#c8102e"/>
<circle cx="179.5" cy="534.5" r="0.85" fill="#c8102e"/>
<circle cx="185.5" cy="538.75" r="0.85" fill="#c8102e"/>
<circle cx="220.75" cy="527.5" r="0.85" fill="#c8102e"/>
<circle cx="226.25" cy="527" r="0.85" fill="#c8102e"/>
<circle cx="219.5" cy="533.25" r="0.85" fill="#c8102e"/>
<circle cx="142.5" cy="537.5" r="0.85" fill="#c8102e"/>
<circle cx="148.25" cy="537.5" r="0.85" fill="#c8102e"/>
<circle cx="157" cy="540" r="0.85" fill="#c8102e"/>
<circle cx="142.5" cy="543.75" r="0.85" fill="#c8102e"/>
<circle cx="151.25" cy="545" r="0.85" fill="#c8102e"/>
<circle cx="155" cy="546.25" r="0.85" fill="#c8102e"/>
<circle cx="156.25" cy="548.75" r="0.85" fill="#c8102e"/>
<circle cx="142.5" cy="498.75" r="0.85" fill="#c8102e"/>
<circle cx="142.5" cy="525" r="0.85" fill="#c8102e"/>
<circle cx="142.5" cy="531.75" r="0.85" fill="#c8102e"/>
<circle cx="145" cy="477.5" r="0.85" fill="#c8102e"/>
<circle cx="142.5" cy="505" r="0.85" fill="#c8102e"/>
<circle cx="146" cy="468" r="0.85" fill="#c8102e"/>
<circle cx="152" cy="474.5" r="0.85" fill="#c8102e"/>
<circle cx="146" cy="479" r="0.85" fill="#c8102e"/>
<circle cx="146" cy="485" r="0.85" fill="#c8102e"/>
<circle cx="178" cy="466.5" r="0.85" fill="#c8102e"/>
<circle cx="173" cy="496.5" r="0.85" fill="#c8102e"/>
<circle cx="213" cy="493.5" r="0.85" fill="#c8102e"/>
<circle cx="172" cy="506.5" r="0.85" fill="#c8102e"/>
<circle cx="154" cy="509.5" r="0.85" fill="#c8102e"/>
<circle cx="151" cy="514" r="0.85" fill="#c8102e"/>
<circle cx="146" cy="519.5" r="0.85" fill="#c8102e"/>
<circle cx="146" cy="525" r="0.85" fill="#c8102e"/>
<circle cx="158" cy="523.5" r="0.85" fill="#c8102e"/>
<circle cx="204" cy="519.5" r="0.85" fill="#c8102e"/>
<circle cx="230.8" cy="549.8" r="0.85" fill="#c8102e"/>
<circle cx="147" cy="548" r="0.85" fill="#c8102e"/>
<circle cx="160" cy="544" r="0.85" fill="#c8102e"/>
<line x1="118.3" y1="440" x2="118.3" y2="631" stroke="#8c8c8c" stroke-width="0.8" stroke-linecap="butt" stroke-dasharray="0.8,1.2"/>
<line x1="141.9" y1="440" x2="141.9" y2="631" stroke="#8c8c8c" stroke-width="0.8" stroke-linecap="butt" stroke-dasharray="0.8,1.2"/>
<line x1="29" y1="550" x2="233.5" y2="550" stroke="#8c8c8c" stroke-width="0.8" stroke-linecap="butt" stroke-dasharray="0.8,1.2"/>
<text x="102" y="459.5" font-size="3.9" text-anchor="start" font-weight="normal" fill="#1a1a1a" class="t">Smad3</text>
<text x="92.7" y="472.5" font-size="3.9" text-anchor="start" font-weight="normal" fill="#1a1a1a" class="t">Irf1</text>
<text x="74" y="482.3" font-size="3.9" text-anchor="start" font-weight="normal" fill="#1a1a1a" class="t">Cxcr4</text>
<text x="40" y="487.8" font-size="3.9" text-anchor="start" font-weight="normal" fill="#1a1a1a" class="t">Mxi</text>
<text x="52" y="486.9" font-size="3.9" text-anchor="start" font-weight="normal" fill="#1a1a1a" class="t">Tnfaip17</text>
<text x="82.8" y="488" font-size="3.9" text-anchor="start" font-weight="normal" fill="#1a1a1a" class="t">Tnfsf13</text>
<text x="67.5" y="495.7" font-size="3.9" text-anchor="start" font-weight="normal" fill="#1a1a1a" class="t">Id2</text>
<text x="75" y="494.5" font-size="3.9" text-anchor="start" font-weight="normal" fill="#1a1a1a" class="t">Btg2</text>
<text x="84" y="495.5" font-size="3.9" text-anchor="start" font-weight="normal" fill="#1a1a1a" class="t">Jun</text>
<text x="101" y="500" font-size="3.9" text-anchor="start" font-weight="normal" fill="#1a1a1a" class="t">Map3k8</text>
<text x="97" y="508.1" font-size="3.9" text-anchor="start" font-weight="normal" fill="#1a1a1a" class="t">Nfkb1</text>
<text x="109" y="507" font-size="3.9" text-anchor="start" font-weight="normal" fill="#1a1a1a" class="t">Traf1</text>
<text x="108" y="512.5" font-size="3.9" text-anchor="start" font-weight="normal" fill="#1a1a1a" class="t">Cebpb</text>
<text x="85" y="512.5" font-size="3.9" text-anchor="start" font-weight="normal" fill="#1a1a1a" class="t">Jdp2</text>
<text x="58" y="509.3" font-size="3.9" text-anchor="start" font-weight="normal" fill="#1a1a1a" class="t">Btg1</text>
<text x="42" y="514.5" font-size="3.9" text-anchor="start" font-weight="normal" fill="#1a1a1a" class="t">Lag2</text>
<text x="104" y="520.5" font-size="3.9" text-anchor="start" font-weight="normal" fill="#1a1a1a" class="t">Atf3</text>
<text x="73" y="525" font-size="3.9" text-anchor="start" font-weight="normal" fill="#1a1a1a" class="t">Egr3</text>
<text x="95" y="523.8" font-size="3.9" text-anchor="start" font-weight="normal" fill="#1a1a1a" class="t">Fos</text>
<text x="32.7" y="529.5" font-size="3.9" text-anchor="start" font-weight="normal" fill="#1a1a1a" class="t">Sgk3</text>
<text x="89" y="531.2" font-size="3.9" text-anchor="start" font-weight="normal" fill="#1a1a1a" class="t">Klf4</text>
<text x="76.5" y="538.1" font-size="3.9" text-anchor="start" font-weight="normal" fill="#1a1a1a" class="t">Cd44</text>
<text x="94" y="537.5" font-size="3.9" text-anchor="start" font-weight="normal" fill="#1a1a1a" class="t">Myc</text>
<text x="77" y="545.5" font-size="3.9" text-anchor="start" font-weight="normal" fill="#1a1a1a" class="t">Vegfa</text>
<text x="89" y="543.5" font-size="3.9" text-anchor="start" font-weight="normal" fill="#1a1a1a" class="t">Egr1</text>
<text x="94" y="549.2" font-size="3.9" text-anchor="start" font-weight="normal" fill="#1a1a1a" class="t">Dusp1</text>
<text x="145" y="467.5" font-size="3.9" text-anchor="start" font-weight="normal" fill="#1a1a1a" class="t">H2-DMa</text>
<text x="152" y="474.5" font-size="3.9" text-anchor="start" font-weight="normal" fill="#1a1a1a" class="t">Ms4a1</text>
<text x="145" y="479" font-size="3.9" text-anchor="start" font-weight="normal" fill="#1a1a1a" class="t">H2-Ab1</text>
<text x="145" y="485.25" font-size="3.9" text-anchor="start" font-weight="normal" fill="#1a1a1a" class="t">H2-Aa</text>
<text x="177.5" y="466" font-size="3.9" text-anchor="start" font-weight="normal" fill="#1a1a1a" class="t">Slamf1</text>
<text x="172.5" y="496.5" font-size="3.9" text-anchor="start" font-weight="normal" fill="#1a1a1a" class="t">Ccr9</text>
<text x="212.5" y="493.5" font-size="3.9" text-anchor="start" font-weight="normal" fill="#1a1a1a" class="t">Cd22</text>
<text x="171" y="506.5" font-size="3.9" text-anchor="start" font-weight="normal" fill="#1a1a1a" class="t">ICOSl</text>
<text x="153.75" y="509.5" font-size="3.9" text-anchor="start" font-weight="normal" fill="#1a1a1a" class="t">H2-DMb2</text>
<text x="151" y="514" font-size="3.9" text-anchor="start" font-weight="normal" fill="#1a1a1a" class="t">H2-DMb1</text>
<text x="146" y="519.5" font-size="3.9" text-anchor="start" font-weight="normal" fill="#1a1a1a" class="t">H2-Eb1</text>
<text x="146" y="525" font-size="3.9" text-anchor="start" font-weight="normal" fill="#1a1a1a" class="t">Nt5e</text>
<text x="157.5" y="523.5" font-size="3.9" text-anchor="start" font-weight="normal" fill="#1a1a1a" class="t">Cd4a</text>
<text x="203.75" y="519.5" font-size="3.9" text-anchor="start" font-weight="normal" fill="#1a1a1a" class="t">Ccr6</text>
<line x1="27.8" y1="439.5" x2="27.8" y2="632.2" stroke="#1c1c1c" stroke-width="1.3" stroke-linecap="butt"/>
<line x1="27" y1="631.5" x2="233.8" y2="631.5" stroke="#1c1c1c" stroke-width="1.3" stroke-linecap="butt"/>
<line x1="25.3" y1="631.5" x2="27.8" y2="631.5" stroke="#1c1c1c" stroke-width="1" stroke-linecap="butt"/>
<text x="22" y="633.7" font-size="6.3" text-anchor="end" font-weight="normal" fill="#2b2b2b" class="t">0</text>
<line x1="25.3" y1="568.3" x2="27.8" y2="568.3" stroke="#1c1c1c" stroke-width="1" stroke-linecap="butt"/>
<text x="22" y="570.5" font-size="6.3" text-anchor="end" font-weight="normal" fill="#2b2b2b" class="t">1</text>
<line x1="25.3" y1="505.1" x2="27.8" y2="505.1" stroke="#1c1c1c" stroke-width="1" stroke-linecap="butt"/>
<text x="22" y="507.3" font-size="6.3" text-anchor="end" font-weight="normal" fill="#2b2b2b" class="t">2</text>
<line x1="25.3" y1="441.9" x2="27.8" y2="441.9" stroke="#1c1c1c" stroke-width="1" stroke-linecap="butt"/>
<text x="22" y="444.1" font-size="6.3" text-anchor="end" font-weight="normal" fill="#2b2b2b" class="t">3</text>
<line x1="27.7" y1="631.5" x2="27.7" y2="634" stroke="#1c1c1c" stroke-width="0.9" stroke-linecap="butt"/>
<line x1="48.2" y1="631.5" x2="48.2" y2="633.4" stroke="#1c1c1c" stroke-width="0.9" stroke-linecap="butt"/>
<line x1="68.7" y1="631.5" x2="68.7" y2="633.4" stroke="#1c1c1c" stroke-width="0.9" stroke-linecap="butt"/>
<line x1="89.2" y1="631.5" x2="89.2" y2="633.4" stroke="#1c1c1c" stroke-width="0.9" stroke-linecap="butt"/>
<line x1="109.7" y1="631.5" x2="109.7" y2="633.4" stroke="#1c1c1c" stroke-width="0.9" stroke-linecap="butt"/>
<line x1="130.2" y1="631.5" x2="130.2" y2="634" stroke="#1c1c1c" stroke-width="0.9" stroke-linecap="butt"/>
<line x1="150.7" y1="631.5" x2="150.7" y2="633.4" stroke="#1c1c1c" stroke-width="0.9" stroke-linecap="butt"/>
<line x1="171.2" y1="631.5" x2="171.2" y2="633.4" stroke="#1c1c1c" stroke-width="0.9" stroke-linecap="butt"/>
<line x1="191.7" y1="631.5" x2="191.7" y2="633.4" stroke="#1c1c1c" stroke-width="0.9" stroke-linecap="butt"/>
<line x1="212.2" y1="631.5" x2="212.2" y2="633.4" stroke="#1c1c1c" stroke-width="0.9" stroke-linecap="butt"/>
<line x1="232.7" y1="631.5" x2="232.7" y2="634" stroke="#1c1c1c" stroke-width="0.9" stroke-linecap="butt"/>
<text x="26.5" y="641.6" font-size="6.3" text-anchor="middle" font-weight="normal" fill="#2b2b2b" class="t">−5</text>
<text x="130.2" y="641.6" font-size="6.3" text-anchor="middle" font-weight="normal" fill="#2b2b2b" class="t">0</text>
<text x="232.7" y="641.6" font-size="6.3" text-anchor="middle" font-weight="normal" fill="#2b2b2b" class="t">5</text>
<text x="0" y="0" font-size="7.8" text-anchor="middle" font-weight="normal" fill="#222" transform="translate(15.2 539) rotate(-90)" textLength="44.3" lengthAdjust="spacingAndGlyphs" class="b">−Log10 <tspan font-style="italic">P</tspan>-value</text>
<text x="130.2" y="654.8" font-size="8" text-anchor="middle" font-weight="normal" fill="#222" textLength="43.5" lengthAdjust="spacingAndGlyphs" class="b">Log2 fold change</text>
<text x="264.9" y="454.9" font-size="10.5" text-anchor="start" font-weight="bold" fill="#111" class="p">K</text>
<rect x="294.7" y="469.6" width="8.3" height="68.1" fill="#29abe2"/>
<rect x="309" y="469.6" width="8.3" height="35.55" fill="#29abe2"/>
<rect x="323.3" y="469.6" width="8.3" height="34.13" fill="#29abe2"/>
<rect x="337.6" y="469.6" width="8.3" height="31.28" fill="#29abe2"/>
<rect x="351.9" y="469.6" width="8.3" height="26.39" fill="#29abe2"/>
<rect x="366.2" y="469.6" width="8.3" height="25.44" fill="#29abe2"/>
<rect x="380.5" y="469.6" width="8.3" height="23.7" fill="#29abe2"/>
<rect x="394.8" y="469.6" width="8.3" height="22.44" fill="#29abe2"/>
<rect x="409.1" y="469.6" width="8.3" height="19.75" fill="#29abe2"/>
<rect x="423.4" y="469.6" width="8.3" height="15.64" fill="#29abe2"/>
<rect x="437.7" y="469.6" width="8.3" height="15.64" fill="#29abe2"/>
<rect x="452" y="469.6" width="8.3" height="13.43" fill="#29abe2"/>
<rect x="466.3" y="469.6" width="8.3" height="9.95" fill="#29abe2"/>
<line x1="289.5" y1="469.6" x2="481.5" y2="469.6" stroke="#1c1c1c" stroke-width="1.3" stroke-linecap="butt"/>
<line x1="289.5" y1="469" x2="289.5" y2="549.5" stroke="#1c1c1c" stroke-width="1.3" stroke-linecap="butt"/>
<line x1="288.9" y1="548.9" x2="481.5" y2="548.9" stroke="#1c1c1c" stroke-width="1.3" stroke-linecap="butt"/>
<line x1="286.6" y1="469.6" x2="289.5" y2="469.6" stroke="#1c1c1c" stroke-width="1" stroke-linecap="butt"/>
<text x="284.3" y="471.8" font-size="6.4" text-anchor="end" font-weight="normal" fill="#2b2b2b" class="t">0</text>
<line x1="286.6" y1="485.4" x2="289.5" y2="485.4" stroke="#1c1c1c" stroke-width="1" stroke-linecap="butt"/>
<text x="284.3" y="487.6" font-size="6.4" text-anchor="end" font-weight="normal" fill="#2b2b2b" class="t">−1</text>
<line x1="286.6" y1="501.2" x2="289.5" y2="501.2" stroke="#1c1c1c" stroke-width="1" stroke-linecap="butt"/>
<text x="284.3" y="503.4" font-size="6.4" text-anchor="end" font-weight="normal" fill="#2b2b2b" class="t">−2</text>
<line x1="286.6" y1="517" x2="289.5" y2="517" stroke="#1c1c1c" stroke-width="1" stroke-linecap="butt"/>
<text x="284.3" y="519.2" font-size="6.4" text-anchor="end" font-weight="normal" fill="#2b2b2b" class="t">−3</text>
<line x1="286.6" y1="532.8" x2="289.5" y2="532.8" stroke="#1c1c1c" stroke-width="1" stroke-linecap="butt"/>
<text x="284.3" y="535" font-size="6.4" text-anchor="end" font-weight="normal" fill="#2b2b2b" class="t">−4</text>
<line x1="286.6" y1="548.6" x2="289.5" y2="548.6" stroke="#1c1c1c" stroke-width="1" stroke-linecap="butt"/>
<text x="284.3" y="550.8" font-size="6.4" text-anchor="end" font-weight="normal" fill="#2b2b2b" class="t">−5</text>
<line x1="298.85" y1="548.9" x2="298.85" y2="551.5" stroke="#1c1c1c" stroke-width="1" stroke-linecap="butt"/>
<text x="0" y="0" font-size="5.6" text-anchor="end" font-weight="normal" fill="#2b2b2b" transform="translate(301.45 557.6) rotate(-45)" class="t">Btkd</text>
<line x1="313.15" y1="548.9" x2="313.15" y2="551.5" stroke="#1c1c1c" stroke-width="1" stroke-linecap="butt"/>
<text x="0" y="0" font-size="5.6" text-anchor="end" font-weight="normal" fill="#2b2b2b" transform="translate(315.75 557.6) rotate(-45)" class="t">Vegfa</text>
<line x1="327.45" y1="548.9" x2="327.45" y2="551.5" stroke="#1c1c1c" stroke-width="1" stroke-linecap="butt"/>
<text x="0" y="0" font-size="5.6" text-anchor="end" font-weight="normal" fill="#2b2b2b" transform="translate(330.05 557.6) rotate(-45)" class="t">Dusp4</text>
<line x1="341.75" y1="548.9" x2="341.75" y2="551.5" stroke="#1c1c1c" stroke-width="1" stroke-linecap="butt"/>
<text x="0" y="0" font-size="5.6" text-anchor="end" font-weight="normal" fill="#2b2b2b" transform="translate(344.35 557.6) rotate(-45)" class="t">Jun</text>
<line x1="356.05" y1="548.9" x2="356.05" y2="551.5" stroke="#1c1c1c" stroke-width="1" stroke-linecap="butt"/>
<text x="0" y="0" font-size="5.6" text-anchor="end" font-weight="normal" fill="#2b2b2b" transform="translate(358.65 557.6) rotate(-45)" class="t">Egr1</text>
<line x1="370.35" y1="548.9" x2="370.35" y2="551.5" stroke="#1c1c1c" stroke-width="1" stroke-linecap="butt"/>
<text x="0" y="0" font-size="5.6" text-anchor="end" font-weight="normal" fill="#2b2b2b" transform="translate(372.95 557.6) rotate(-45)" class="t">Fos</text>
<line x1="384.65" y1="548.9" x2="384.65" y2="551.5" stroke="#1c1c1c" stroke-width="1" stroke-linecap="butt"/>
<text x="0" y="0" font-size="5.6" text-anchor="end" font-weight="normal" fill="#2b2b2b" transform="translate(387.25 557.6) rotate(-45)" class="t">Irf1</text>
<line x1="398.95" y1="548.9" x2="398.95" y2="551.5" stroke="#1c1c1c" stroke-width="1" stroke-linecap="butt"/>
<text x="0" y="0" font-size="5.6" text-anchor="end" font-weight="normal" fill="#2b2b2b" transform="translate(401.55 557.6) rotate(-45)" class="t">Egr2</text>
<line x1="413.25" y1="548.9" x2="413.25" y2="551.5" stroke="#1c1c1c" stroke-width="1" stroke-linecap="butt"/>
<text x="0" y="0" font-size="5.6" text-anchor="end" font-weight="normal" fill="#2b2b2b" transform="translate(415.85 557.6) rotate(-45)" class="t">Il15ra</text>
<line x1="427.55" y1="548.9" x2="427.55" y2="551.5" stroke="#1c1c1c" stroke-width="1" stroke-linecap="butt"/>
<text x="0" y="0" font-size="5.6" text-anchor="end" font-weight="normal" fill="#2b2b2b" transform="translate(430.15 557.6) rotate(-45)" class="t">Cebpb</text>
<line x1="441.85" y1="548.9" x2="441.85" y2="551.5" stroke="#1c1c1c" stroke-width="1" stroke-linecap="butt"/>
<text x="0" y="0" font-size="5.6" text-anchor="end" font-weight="normal" fill="#2b2b2b" transform="translate(444.45 557.6) rotate(-45)" class="t">Tnfaip3</text>
<line x1="456.15" y1="548.9" x2="456.15" y2="551.5" stroke="#1c1c1c" stroke-width="1" stroke-linecap="butt"/>
<text x="0" y="0" font-size="5.6" text-anchor="end" font-weight="normal" fill="#2b2b2b" transform="translate(458.75 557.6) rotate(-45)" class="t">Smad3</text>
<line x1="470.45" y1="548.9" x2="470.45" y2="551.5" stroke="#1c1c1c" stroke-width="1" stroke-linecap="butt"/>
<text x="0" y="0" font-size="5.6" text-anchor="end" font-weight="normal" fill="#2b2b2b" transform="translate(473.05 557.6) rotate(-45)" class="t">Nfkbia</text>
<line x1="342" y1="533.5" x2="342" y2="543" stroke="#111" stroke-width="0.9" stroke-linecap="butt"/>
<path d="M342 530.8 L340 534.8 L344 534.8 Z" fill="#111"/>
<line x1="370.2" y1="533.5" x2="370.2" y2="543" stroke="#111" stroke-width="0.9" stroke-linecap="butt"/>
<path d="M370.2 530.8 L368.2 534.8 L372.2 534.8 Z" fill="#111"/>
<text x="385.3" y="464" font-size="7.3" text-anchor="middle" font-weight="normal" fill="#2b2b2b" textLength="145.3" lengthAdjust="spacingAndGlyphs" class="t">TNF-α via NF-kB - MSigDB hallmark gene</text>
<text x="0" y="0" font-size="6.9" text-anchor="middle" font-weight="normal" fill="#2b2b2b" transform="translate(272 509.6) rotate(-90)" textLength="44" lengthAdjust="spacingAndGlyphs" class="s">log2(fold change)</text>
<rect x="0.65" y="0.5" width="518.8" height="661.95" fill="none" stroke="#3a3a3a" stroke-width="1.25"/>
</svg>
</body></html>
